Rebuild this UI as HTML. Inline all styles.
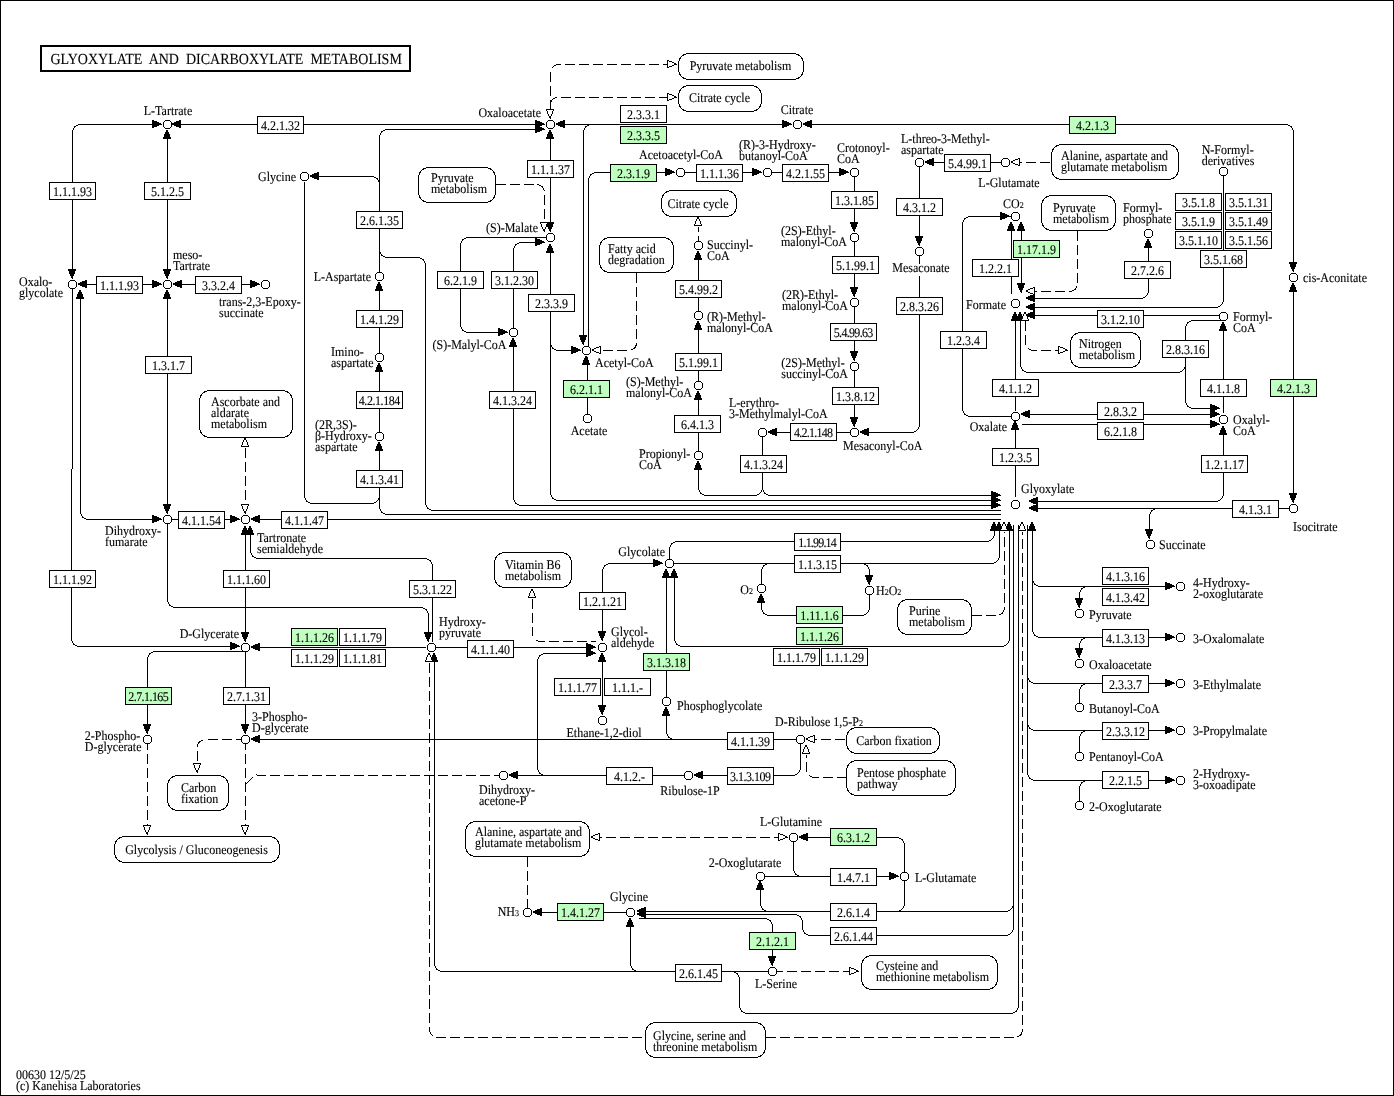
<!DOCTYPE html>
<html><head><meta charset="utf-8"><style>
    html,body{margin:0;padding:0;background:#fff;}
    svg{display:block;will-change:transform;}
    .l{fill:none;stroke:#000;stroke-width:1;}
    .ld{fill:none;stroke:#000;stroke-width:1;stroke-dasharray:10 4;}
    .c{fill:#fff;stroke:#000;stroke-width:1;}
    .b{fill:#fff;stroke:#000;stroke-width:1;}
    .g{fill:#bfffbf;stroke:#000;stroke-width:1;}
    .m{fill:#fff;stroke:#000;stroke-width:1;}
    .a{fill:#000;stroke:none;}
    .ao{fill:#fff;stroke:#000;stroke-width:1;}
    text{font-family:"Liberation Serif",serif;font-size:12px;fill:#000;text-rendering:geometricPrecision;stroke:#000;stroke-width:0.1px;}
    </style></head>
<body><svg width="1394" height="1096" viewBox="0 0 1394 1096">
<defs><g id="cir" shape-rendering="crispEdges"><rect x="-3" y="-3" width="7" height="7" fill="#fff"/><path d="M-2,-4h5v1h-5zM-2,4h5v1h-5zM-4,-2h1v5h-1zM4,-2h1v5h-1zM-3,-3h1v1h-1zM3,-3h1v1h-1zM-3,3h1v1h-1zM3,3h1v1h-1z" fill="#000"/></g></defs>
<rect x="0" y="0" width="1394" height="1096" fill="#fff"/>
<g transform="translate(0.5,0.5)" shape-rendering="crispEdges">
<path d="M172,124 L544,124" class="l"/>
<path d="M161,124 L80.00,124.00 A8.00,8.00 0 0 0 72.00,132.00 L72,278" class="l"/>
<path d="M167,130 L167,278" class="l"/>
<path d="M310,176 L371.00,176.00 A8.00,8.00 0 0 1 379.00,184.00 L379,276" class="l"/>
<path d="M544,129 L387.00,129.00 A8.00,8.00 0 0 0 379.00,137.00 L379.00,249.00 A8.00,8.00 0 0 0 387.00,257.00 L417.00,257.00 A8.00,8.00 0 0 1 425.00,265.00 L425.00,502.00 A8.00,8.00 0 0 0 433.00,510.00 L1000,510" class="l"/>
<path d="M304,181 L304.00,495.00 A8.00,8.00 0 0 0 312.00,503.00 L371.00,503.00 A8.00,8.00 0 0 0 379.00,495.00 L379,487" class="l"/>
<path d="M379,495 L379.00,506.00 A8.00,8.00 0 0 0 387.00,514.00 L1000,514" class="l"/>
<path d="M379,442 L379,487" class="l"/>
<path d="M379,363 L379,436" class="l"/>
<path d="M379,282 L379,357" class="l"/>
<path d="M550,130 L550,231" class="l"/>
<path d="M550,109 L550.00,72.00 A8.00,8.00 0 0 1 558.00,64.00 L667,64" class="ld"/>
<path d="M550,104 L550.00,104.00 A7.00,7.00 0 0 1 557.00,97.00 L667,97" class="ld"/>
<path d="M556,124 L791,124" class="l"/>
<path d="M803,124 L1285.00,124.00 A8.00,8.00 0 0 1 1293.00,132.00 L1293,271" class="l"/>
<path d="M1293,283 L1293,502" class="l"/>
<path d="M495,184 L536.00,184.00 A8.00,8.00 0 0 1 544.00,192.00 L544,231" class="ld"/>
<path d="M600,124 L591.00,124.00 A8.00,8.00 0 0 0 583.00,132.00 L583,344" class="l"/>
<path d="M588,345 L588.00,180.00 A8.00,8.00 0 0 1 596.00,172.00 L674,172" class="l"/>
<path d="M680,172 L761,172" class="l"/>
<path d="M767,172 L848,172" class="l"/>
<path d="M854,172 L854,231" class="l"/>
<path d="M854,237 L854,296" class="l"/>
<path d="M854,302 L854,360" class="l"/>
<path d="M854,366 L854,426" class="l"/>
<path d="M768,432 L854,432" class="l"/>
<path d="M919,251 L919.00,424.00 A8.00,8.00 0 0 1 911.00,432.00 L860,432" class="l"/>
<path d="M919,162 L919,245" class="l"/>
<path d="M925,162 L1005,162" class="l"/>
<path d="M1011,162 L1051,162" class="ld"/>
<path d="M762,432 L762.00,487.00 A8.00,8.00 0 0 1 754.00,495.00 L706.00,495.00 A8.00,8.00 0 0 1 698.00,487.00 L698,461" class="l"/>
<path d="M762,487 L762.00,487.00 A8.00,8.00 0 0 0 770.00,495.00 L1000,495" class="l"/>
<path d="M698,391 L698,455" class="l"/>
<path d="M698,321 L698,385" class="l"/>
<path d="M698,251 L698,315" class="l"/>
<path d="M698,245 L698,226" class="ld"/>
<path d="M550,237 L468.00,237.00 A8.00,8.00 0 0 0 460.00,245.00 L460.00,324.00 A8.00,8.00 0 0 0 468.00,332.00 L507,332" class="l"/>
<path d="M513,332 L513.00,250.00 A8.00,8.00 0 0 1 521.00,242.00 L544,242" class="l"/>
<path d="M513,338 L513.00,497.00 A8.00,8.00 0 0 0 521.00,505.00 L1000,505" class="l"/>
<path d="M550,244 L550.00,492.00 A8.00,8.00 0 0 0 558.00,500.00 L1000,500" class="l"/>
<path d="M550,340 L550.00,342.00 A8.00,8.00 0 0 0 558.00,350.00 L580,350" class="l"/>
<path d="M587,356 L587,418" class="l"/>
<path d="M636,272 L636.00,342.00 A8.00,8.00 0 0 1 628.00,350.00 L592,350" class="ld"/>
<path d="M1015,416 L970.00,416.00 A8.00,8.00 0 0 1 962.00,408.00 L962.00,224.00 A8.00,8.00 0 0 1 970.00,216.00 L1010,216" class="l"/>
<path d="M1011,222 L1011,293" class="l"/>
<path d="M1021,222 L1021,291" class="l"/>
<path d="M1077,230 L1077.00,283.00 A8.00,8.00 0 0 1 1069.00,291.00 L1027,291" class="ld"/>
<path d="M1148,239 L1148.00,290.00 A8.00,8.00 0 0 1 1140.00,298.00 L1027,298" class="l"/>
<path d="M1223,171 L1223.00,299.00 A8.00,8.00 0 0 1 1215.00,307.00 L1027,307" class="l"/>
<path d="M1027,315 L1223,315" class="l"/>
<path d="M1015,312 L1015,410" class="l"/>
<path d="M1020,312 L1020.00,364.00 A8.00,8.00 0 0 0 1028.00,372.00 L1177.00,372.00 A8.00,8.00 0 0 0 1185.00,364.00 L1185,360" class="l"/>
<path d="M1223,320 L1193.00,320.00 A8.00,8.00 0 0 0 1185.00,328.00 L1185.00,400.00 A8.00,8.00 0 0 0 1193.00,408.00 L1219,408" class="l"/>
<path d="M1025,320 L1025.00,342.00 A8.00,8.00 0 0 0 1033.00,350.00 L1058,350" class="ld"/>
<path d="M1223,322 L1223,412" class="l"/>
<path d="M1021,414 L1217,414" class="l"/>
<path d="M1021,424 L1219,424" class="l"/>
<path d="M1015,418 L1015,496" class="l"/>
<path d="M1223,426 L1223.00,493.00 A8.00,8.00 0 0 1 1215.00,501.00 L1029,501" class="l"/>
<path d="M1293,508 L1029,508" class="l"/>
<path d="M1160,508 L1157.00,508.00 A8.00,8.00 0 0 0 1149.00,516.00 L1149,538" class="l"/>
<path d="M78,284 L161,284" class="l"/>
<path d="M173,284 L259,284" class="l"/>
<path d="M167,290 L167,513" class="l"/>
<path d="M72,284 L72,468" class="l"/>
<path d="M71,468 L71.00,638.00 A8.00,8.00 0 0 0 79.00,646.00 L239,646" class="l"/>
<path d="M80,290 L80.00,511.00 A8.00,8.00 0 0 0 88.00,519.00 L161,519" class="l"/>
<path d="M167,519 L239,519" class="l"/>
<path d="M251,519 L1000,519" class="l"/>
<path d="M245,447 L245,504" class="ld"/>
<path d="M245,526 L245,641" class="l"/>
<path d="M250,526 L250.00,550.00 A8.00,8.00 0 0 0 258.00,558.00 L424.00,558.00 A8.00,8.00 0 0 1 432.00,566.00 L432,641" class="l"/>
<path d="M167,519 L167.00,599.00 A8.00,8.00 0 0 0 175.00,607.00 L420.00,607.00 A8.00,8.00 0 0 1 428.00,615.00 L428,641" class="l"/>
<path d="M251,647 L425,647" class="l"/>
<path d="M245,651 L155.00,651.00 A8.00,8.00 0 0 0 147.00,659.00 L147,733" class="l"/>
<path d="M245,647 L245,733" class="l"/>
<path d="M147,739 L147,825" class="ld"/>
<path d="M245,739 L245,825" class="ld"/>
<path d="M245,739 L205.00,739.00 A8.00,8.00 0 0 0 197.00,747.00 L197,763" class="ld"/>
<path d="M503,775 L257.00,775.00 A3.00,3.00 0 0 0 251.88,777.12 L245,784" class="ld"/>
<path d="M431,647 L595,647" class="l"/>
<path d="M532,598 L532.00,633.00 A8.00,8.00 0 0 0 540.00,641.00 L595,641" class="ld"/>
<path d="M602,640 L602.00,571.00 A8.00,8.00 0 0 1 610.00,563.00 L662,563" class="l"/>
<path d="M602,653 L602,714" class="l"/>
<path d="M666,569 L666,701" class="l"/>
<path d="M674,569 L674.00,638.00 A8.00,8.00 0 0 0 682.00,646.00 L1001.00,646.00 A8.00,8.00 0 0 0 1009.00,638.00 L1009,522" class="l"/>
<path d="M669,563 L669.00,549.00 A8.00,8.00 0 0 1 677.00,541.00 L986.00,541.00 A8.00,8.00 0 0 0 994.00,533.00 L994,522" class="l"/>
<path d="M669,563 L991.00,563.00 A8.00,8.00 0 0 0 999.00,555.00 L999,522" class="l"/>
<path d="M790,563 L769.00,563.00 A8.00,8.00 0 0 0 761.00,571.00 L761,588" class="l"/>
<path d="M840,563 L861.00,563.00 A8.00,8.00 0 0 1 869.00,571.00 L869,584" class="l"/>
<path d="M869,590 L869.00,607.00 A8.00,8.00 0 0 1 861.00,615.00 L769.00,615.00 A8.00,8.00 0 0 1 761.00,607.00 L761,594" class="l"/>
<path d="M971,615 L996.00,615.00 A8.00,8.00 0 0 0 1004.00,607.00 L1004,531" class="ld"/>
<path d="M800,739 L251,739" class="l"/>
<path d="M690,739 L674.00,739.00 A8.00,8.00 0 0 1 666.00,731.00 L666,707" class="l"/>
<path d="M806,739 L846,739" class="ld"/>
<path d="M846,777 L814.00,777.00 A8.00,8.00 0 0 1 806.00,769.00 L806,754" class="ld"/>
<path d="M800,739 L800.00,767.00 A8.00,8.00 0 0 1 792.00,775.00 L694,775" class="l"/>
<path d="M688,775 L509,775" class="l"/>
<path d="M560,775 L545.00,775.00 A8.00,8.00 0 0 1 537.00,767.00 L537.00,661.00 A8.00,8.00 0 0 1 545.00,653.00 L595,653" class="l"/>
<path d="M527,856 L527,908" class="ld"/>
<path d="M591,837 L787,837" class="ld"/>
<path d="M533,912 L630,912" class="l"/>
<path d="M904,876 L904.00,845.00 A8.00,8.00 0 0 0 896.00,837.00 L799,837" class="l"/>
<path d="M760,876 L898,876" class="l"/>
<path d="M793,837 L793.00,868.00 A8.00,8.00 0 0 0 801.00,876.00 L810,876" class="l"/>
<path d="M1013,524 L1013.00,903.00 A8.00,8.00 0 0 1 1005.00,911.00 L637,911" class="l"/>
<path d="M904,876 L904.00,903.00 A8.00,8.00 0 0 1 896.00,911.00 L890,911" class="l"/>
<path d="M760,881 L760.00,903.00 A8.00,8.00 0 0 0 768.00,911.00 L780,911" class="l"/>
<path d="M1013,900 L1013.00,927.00 A8.00,8.00 0 0 1 1005.00,935.00 L810.00,935.00 A8.00,8.00 0 0 1 802.00,927.00 L802.00,922.00 A8.00,8.00 0 0 0 794.00,914.00 L637,914" class="l"/>
<path d="M638,918 L764.00,918.00 A8.00,8.00 0 0 1 772.00,926.00 L772,965" class="l"/>
<path d="M434,653 L434.00,963.00 A8.00,8.00 0 0 0 442.00,971.00 L772,971" class="l"/>
<path d="M630,918 L630.00,963.00 A8.00,8.00 0 0 0 638.00,971.00 L650,971" class="l"/>
<path d="M721,971 L731.00,971.00 A8.00,8.00 0 0 1 739.00,979.00 L739.00,1005.00 A8.00,8.00 0 0 0 747.00,1013.00 L1010.00,1013.00 A8.00,8.00 0 0 0 1018.00,1005.00 L1018,524" class="l"/>
<path d="M772,971 L849,971" class="ld"/>
<path d="M429,662 L429.00,1029.00 A8.00,8.00 0 0 0 437.00,1037.00 L645,1037" class="ld"/>
<path d="M765,1037 L1014.00,1037.00 A8.00,8.00 0 0 0 1022.00,1029.00 L1022,531" class="ld"/>
<path d="M1032,522 L1032.00,629.00 A8.00,8.00 0 0 0 1040.00,637.00 L1174,637" class="l"/>
<path d="M1032,575 L1032.00,578.00 A8.00,8.00 0 0 0 1040.00,586.00 L1174,586" class="l"/>
<path d="M1090,586 L1087.00,586.00 A8.00,8.00 0 0 0 1079.00,594.00 L1079,607" class="l"/>
<path d="M1090,637 L1087.00,637.00 A8.00,8.00 0 0 0 1079.00,645.00 L1079,657" class="l"/>
<path d="M1027,524 L1027.00,772.00 A8.00,8.00 0 0 0 1035.00,780.00 L1174,780" class="l"/>
<path d="M1027,672 L1027.00,675.00 A8.00,8.00 0 0 0 1035.00,683.00 L1174,683" class="l"/>
<path d="M1079,707 L1079.00,691.00 A8.00,8.00 0 0 1 1087.00,683.00 L1090,683" class="l"/>
<path d="M1027,719 L1027.00,722.00 A8.00,8.00 0 0 0 1035.00,730.00 L1174,730" class="l"/>
<path d="M1079,756 L1079.00,738.00 A8.00,8.00 0 0 1 1087.00,730.00 L1090,730" class="l"/>
<path d="M1079,805 L1079.00,788.00 A8.00,8.00 0 0 1 1087.00,780.00 L1090,780" class="l"/>
<rect x="0" y="0" width="1393" height="1095" fill="none" stroke="#000" stroke-width="1"/>
<rect x="40.5" y="45.5" width="369" height="25" fill="none" stroke="#000" stroke-width="2"/>
<rect x="257" y="116" width="46" height="17" class="b"/>
<rect x="49" y="182" width="46" height="17" class="b"/>
<rect x="144" y="182" width="46" height="17" class="b"/>
<rect x="356" y="211" width="46" height="17" class="b"/>
<rect x="356" y="470" width="46" height="17" class="b"/>
<rect x="356" y="391" width="46" height="17" class="b"/>
<rect x="356" y="310" width="46" height="17" class="b"/>
<rect x="527" y="160" width="46" height="17" class="b"/>
<rect x="678" y="53" width="125" height="26" rx="10" ry="10" class="m"/>
<rect x="678" y="85" width="83" height="26" rx="10" ry="10" class="m"/>
<rect x="620" y="105" width="46" height="17" class="b"/>
<rect x="620" y="126" width="46" height="17" class="g"/>
<rect x="1069" y="116" width="46" height="17" class="g"/>
<rect x="1270" y="379" width="46" height="17" class="g"/>
<rect x="418" y="167" width="77" height="35" rx="10" ry="10" class="m"/>
<rect x="610" y="164" width="46" height="17" class="g"/>
<rect x="696" y="164" width="46" height="17" class="b"/>
<rect x="782" y="164" width="46" height="17" class="b"/>
<rect x="831" y="191" width="46" height="17" class="b"/>
<rect x="832" y="256" width="46" height="17" class="b"/>
<rect x="830" y="323" width="46" height="17" class="b"/>
<rect x="832" y="387" width="46" height="17" class="b"/>
<rect x="790" y="423" width="46" height="17" class="b"/>
<rect x="896" y="297" width="46" height="17" class="b"/>
<rect x="896" y="198" width="46" height="17" class="b"/>
<rect x="944" y="154" width="46" height="17" class="b"/>
<rect x="1051" y="144" width="127" height="35" rx="10" ry="10" class="m"/>
<rect x="740" y="455" width="46" height="17" class="b"/>
<rect x="674" y="415" width="46" height="17" class="b"/>
<rect x="675" y="353" width="46" height="17" class="b"/>
<rect x="675" y="280" width="46" height="17" class="b"/>
<rect x="661" y="190" width="75" height="26" rx="10" ry="10" class="m"/>
<rect x="437" y="271" width="46" height="17" class="b"/>
<rect x="491" y="271" width="46" height="17" class="b"/>
<rect x="489" y="391" width="46" height="17" class="b"/>
<rect x="528" y="294" width="46" height="17" class="b"/>
<rect x="563" y="380" width="46" height="17" class="g"/>
<rect x="599" y="237" width="74" height="35" rx="10" ry="10" class="m"/>
<rect x="940" y="331" width="46" height="17" class="b"/>
<rect x="972" y="259" width="46" height="17" class="b"/>
<rect x="1013" y="240" width="46" height="17" class="g"/>
<rect x="1041" y="195" width="74" height="35" rx="10" ry="10" class="m"/>
<rect x="1124" y="261" width="46" height="17" class="b"/>
<rect x="1175" y="193" width="46" height="17" class="b"/>
<rect x="1225" y="193" width="46" height="17" class="b"/>
<rect x="1175" y="212" width="46" height="17" class="b"/>
<rect x="1225" y="212" width="46" height="17" class="b"/>
<rect x="1175" y="231" width="46" height="17" class="b"/>
<rect x="1225" y="231" width="46" height="17" class="b"/>
<rect x="1200" y="250" width="46" height="17" class="b"/>
<rect x="1097" y="310" width="46" height="17" class="b"/>
<rect x="992" y="379" width="46" height="17" class="b"/>
<rect x="1162" y="340" width="46" height="17" class="b"/>
<rect x="1070" y="332" width="70" height="35" rx="10" ry="10" class="m"/>
<rect x="1200" y="379" width="46" height="17" class="b"/>
<rect x="1097" y="402" width="46" height="17" class="b"/>
<rect x="1097" y="422" width="46" height="17" class="b"/>
<rect x="992" y="448" width="46" height="17" class="b"/>
<rect x="1201" y="455" width="46" height="17" class="b"/>
<rect x="1232" y="500" width="46" height="17" class="b"/>
<rect x="96" y="276" width="46" height="17" class="b"/>
<rect x="195" y="276" width="46" height="17" class="b"/>
<rect x="145" y="356" width="46" height="17" class="b"/>
<rect x="49" y="570" width="46" height="17" class="b"/>
<rect x="178" y="511" width="46" height="17" class="b"/>
<rect x="281" y="511" width="46" height="17" class="b"/>
<rect x="199" y="390" width="93" height="47" rx="10" ry="10" class="m"/>
<rect x="223" y="570" width="46" height="17" class="b"/>
<rect x="409" y="580" width="46" height="17" class="b"/>
<rect x="291" y="628" width="46" height="17" class="g"/>
<rect x="339" y="628" width="46" height="17" class="b"/>
<rect x="291" y="649" width="46" height="17" class="b"/>
<rect x="339" y="649" width="46" height="17" class="b"/>
<rect x="125" y="687" width="46" height="17" class="g"/>
<rect x="223" y="687" width="46" height="17" class="b"/>
<rect x="167" y="775" width="61" height="35" rx="10" ry="10" class="m"/>
<rect x="114" y="836" width="165" height="26" rx="10" ry="10" class="m"/>
<rect x="467" y="640" width="46" height="17" class="b"/>
<rect x="494" y="552" width="77" height="35" rx="10" ry="10" class="m"/>
<rect x="579" y="592" width="46" height="17" class="b"/>
<rect x="554" y="678" width="46" height="17" class="b"/>
<rect x="604" y="678" width="46" height="17" class="b"/>
<rect x="643" y="653" width="46" height="17" class="g"/>
<rect x="796" y="627" width="46" height="17" class="g"/>
<rect x="773" y="648" width="46" height="17" class="b"/>
<rect x="821" y="648" width="46" height="17" class="b"/>
<rect x="794" y="533" width="46" height="17" class="b"/>
<rect x="794" y="555" width="46" height="17" class="b"/>
<rect x="796" y="606" width="46" height="17" class="g"/>
<rect x="897" y="599" width="74" height="35" rx="10" ry="10" class="m"/>
<rect x="727" y="732" width="46" height="17" class="b"/>
<rect x="846" y="727" width="93" height="26" rx="10" ry="10" class="m"/>
<rect x="846" y="760" width="109" height="35" rx="10" ry="10" class="m"/>
<rect x="727" y="767" width="46" height="17" class="b"/>
<rect x="606" y="767" width="46" height="17" class="b"/>
<rect x="465" y="821" width="124" height="35" rx="10" ry="10" class="m"/>
<rect x="557" y="903" width="46" height="17" class="g"/>
<rect x="830" y="828" width="46" height="17" class="g"/>
<rect x="830" y="868" width="46" height="17" class="b"/>
<rect x="830" y="903" width="46" height="17" class="b"/>
<rect x="830" y="927" width="46" height="17" class="b"/>
<rect x="749" y="932" width="46" height="17" class="g"/>
<rect x="675" y="964" width="46" height="17" class="b"/>
<rect x="861" y="955" width="136" height="34" rx="10" ry="10" class="m"/>
<rect x="645" y="1022" width="120" height="35" rx="10" ry="10" class="m"/>
<rect x="1102" y="567" width="46" height="17" class="b"/>
<rect x="1102" y="588" width="46" height="17" class="b"/>
<rect x="1102" y="629" width="46" height="17" class="b"/>
<rect x="1102" y="675" width="46" height="17" class="b"/>
<rect x="1102" y="722" width="46" height="17" class="b"/>
<rect x="1102" y="771" width="46" height="17" class="b"/>
<rect x="891" y="263" width="59" height="12" fill="#fff" stroke="none"/>
</g>
<g shape-rendering="crispEdges">
<path d="M179,120h2v1h-2zM176,121h5v1h-5zM174,122h7v1h-7zM172,123h9v1h-9zM172,124h9v1h-9zM174,125h7v1h-7zM176,126h5v1h-5zM179,127h2v1h-2z" fill="#000"/>
<path d="M535,120h2v1h-2zM535,121h5v1h-5zM535,122h7v1h-7zM535,123h9v1h-9zM535,124h10v1h-10zM535,125h7v1h-7zM535,126h5v1h-5zM535,127h2v1h-2z" fill="#000"/>
<path d="M152,120h2v1h-2zM152,121h5v1h-5zM152,122h7v1h-7zM152,123h9v1h-9zM152,124h10v1h-10zM152,125h7v1h-7zM152,126h5v1h-5zM152,127h2v1h-2z" fill="#000"/>
<path d="M68,269h8v1h-8zM68,270h8v1h-8zM69,271h6v1h-6zM69,272h6v1h-6zM69,273h6v1h-6zM70,274h4v1h-4zM70,275h4v1h-4zM71,276h2v1h-2zM71,277h2v1h-2zM72,278h1v1h-1z" fill="#000"/>
<path d="M166,130h2v1h-2zM166,131h2v1h-2zM165,132h4v1h-4zM165,133h4v1h-4zM164,134h6v1h-6zM164,135h6v1h-6zM164,136h6v1h-6zM163,137h8v1h-8zM163,138h8v1h-8z" fill="#000"/>
<path d="M163,269h8v1h-8zM163,270h8v1h-8zM164,271h6v1h-6zM164,272h6v1h-6zM164,273h6v1h-6zM165,274h4v1h-4zM165,275h4v1h-4zM166,276h2v1h-2zM166,277h2v1h-2zM167,278h1v1h-1z" fill="#000"/>
<path d="M317,172h2v1h-2zM314,173h5v1h-5zM312,174h7v1h-7zM310,175h9v1h-9zM310,176h9v1h-9zM312,177h7v1h-7zM314,178h5v1h-5zM317,179h2v1h-2z" fill="#000"/>
<path d="M535,125h2v1h-2zM535,126h5v1h-5zM535,127h7v1h-7zM535,128h9v1h-9zM535,129h10v1h-10zM535,130h7v1h-7zM535,131h5v1h-5zM535,132h2v1h-2z" fill="#000"/>
<path d="M378,442h2v1h-2zM378,443h2v1h-2zM377,444h4v1h-4zM377,445h4v1h-4zM376,446h6v1h-6zM376,447h6v1h-6zM376,448h6v1h-6zM375,449h8v1h-8zM375,450h8v1h-8z" fill="#000"/>
<path d="M378,363h2v1h-2zM378,364h2v1h-2zM377,365h4v1h-4zM377,366h4v1h-4zM376,367h6v1h-6zM376,368h6v1h-6zM376,369h6v1h-6zM375,370h8v1h-8zM375,371h8v1h-8z" fill="#000"/>
<path d="M378,282h2v1h-2zM378,283h2v1h-2zM377,284h4v1h-4zM377,285h4v1h-4zM376,286h6v1h-6zM376,287h6v1h-6zM376,288h6v1h-6zM375,289h8v1h-8zM375,290h8v1h-8z" fill="#000"/>
<path d="M549,130h2v1h-2zM549,131h2v1h-2zM548,132h4v1h-4zM548,133h4v1h-4zM547,134h6v1h-6zM547,135h6v1h-6zM547,136h6v1h-6zM546,137h8v1h-8zM546,138h8v1h-8z" fill="#000"/>
<path d="M546,222h8v1h-8zM546,223h8v1h-8zM547,224h6v1h-6zM547,225h6v1h-6zM547,226h6v1h-6zM548,227h4v1h-4zM548,228h4v1h-4zM549,229h2v1h-2zM549,230h2v1h-2zM550,231h1v1h-1z" fill="#000"/>
<path d="M547,110h6v1h-6zM548,111h4v1h-4zM548,112h4v1h-4zM548,113h4v1h-4zM549,114h2v1h-2zM549,115h2v1h-2z" fill="#fff"/>
<path d="M546,109h8v1h-8zM546,110h1v1h-1zM553,110h1v1h-1zM547,111h1v1h-1zM552,111h1v1h-1zM547,112h1v1h-1zM552,112h1v1h-1zM547,113h1v1h-1zM552,113h1v1h-1zM548,114h1v1h-1zM551,114h1v1h-1zM548,115h1v1h-1zM551,115h1v1h-1zM549,116h2v1h-2zM549,117h2v1h-2zM550,118h1v1h-1z" fill="#000"/>
<path d="M668,61h1v1h-1zM668,62h4v1h-4zM668,63h6v1h-6zM668,64h6v1h-6zM668,65h4v1h-4zM668,66h1v1h-1z" fill="#fff"/>
<path d="M667,60h2v1h-2zM667,61h1v1h-1zM669,61h3v1h-3zM667,62h1v1h-1zM672,62h2v1h-2zM667,63h1v1h-1zM674,63h2v1h-2zM667,64h1v1h-1zM674,64h3v1h-3zM667,65h1v1h-1zM672,65h2v1h-2zM667,66h1v1h-1zM669,66h3v1h-3zM667,67h2v1h-2z" fill="#000"/>
<path d="M668,94h1v1h-1zM668,95h4v1h-4zM668,96h6v1h-6zM668,97h6v1h-6zM668,98h4v1h-4zM668,99h1v1h-1z" fill="#fff"/>
<path d="M667,93h2v1h-2zM667,94h1v1h-1zM669,94h3v1h-3zM667,95h1v1h-1zM672,95h2v1h-2zM667,96h1v1h-1zM674,96h2v1h-2zM667,97h1v1h-1zM674,97h3v1h-3zM667,98h1v1h-1zM672,98h2v1h-2zM667,99h1v1h-1zM669,99h3v1h-3zM667,100h2v1h-2z" fill="#000"/>
<path d="M563,120h2v1h-2zM560,121h5v1h-5zM558,122h7v1h-7zM556,123h9v1h-9zM556,124h9v1h-9zM558,125h7v1h-7zM560,126h5v1h-5zM563,127h2v1h-2z" fill="#000"/>
<path d="M782,120h2v1h-2zM782,121h5v1h-5zM782,122h7v1h-7zM782,123h9v1h-9zM782,124h10v1h-10zM782,125h7v1h-7zM782,126h5v1h-5zM782,127h2v1h-2z" fill="#000"/>
<path d="M810,120h2v1h-2zM807,121h5v1h-5zM805,122h7v1h-7zM803,123h9v1h-9zM803,124h9v1h-9zM805,125h7v1h-7zM807,126h5v1h-5zM810,127h2v1h-2z" fill="#000"/>
<path d="M1289,262h8v1h-8zM1289,263h8v1h-8zM1290,264h6v1h-6zM1290,265h6v1h-6zM1290,266h6v1h-6zM1291,267h4v1h-4zM1291,268h4v1h-4zM1292,269h2v1h-2zM1292,270h2v1h-2zM1293,271h1v1h-1z" fill="#000"/>
<path d="M1292,283h2v1h-2zM1292,284h2v1h-2zM1291,285h4v1h-4zM1291,286h4v1h-4zM1290,287h6v1h-6zM1290,288h6v1h-6zM1290,289h6v1h-6zM1289,290h8v1h-8zM1289,291h8v1h-8z" fill="#000"/>
<path d="M1289,493h8v1h-8zM1289,494h8v1h-8zM1290,495h6v1h-6zM1290,496h6v1h-6zM1290,497h6v1h-6zM1291,498h4v1h-4zM1291,499h4v1h-4zM1292,500h2v1h-2zM1292,501h2v1h-2zM1293,502h1v1h-1z" fill="#000"/>
<path d="M541,223h6v1h-6zM542,224h4v1h-4zM542,225h4v1h-4zM542,226h4v1h-4zM543,227h2v1h-2zM543,228h2v1h-2z" fill="#fff"/>
<path d="M540,222h8v1h-8zM540,223h1v1h-1zM547,223h1v1h-1zM541,224h1v1h-1zM546,224h1v1h-1zM541,225h1v1h-1zM546,225h1v1h-1zM541,226h1v1h-1zM546,226h1v1h-1zM542,227h1v1h-1zM545,227h1v1h-1zM542,228h1v1h-1zM545,228h1v1h-1zM543,229h2v1h-2zM543,230h2v1h-2zM544,231h1v1h-1z" fill="#000"/>
<path d="M579,335h8v1h-8zM579,336h8v1h-8zM580,337h6v1h-6zM580,338h6v1h-6zM580,339h6v1h-6zM581,340h4v1h-4zM581,341h4v1h-4zM582,342h2v1h-2zM582,343h2v1h-2zM583,344h1v1h-1z" fill="#000"/>
<path d="M665,168h2v1h-2zM665,169h5v1h-5zM665,170h7v1h-7zM665,171h9v1h-9zM665,172h10v1h-10zM665,173h7v1h-7zM665,174h5v1h-5zM665,175h2v1h-2z" fill="#000"/>
<path d="M752,168h2v1h-2zM752,169h5v1h-5zM752,170h7v1h-7zM752,171h9v1h-9zM752,172h10v1h-10zM752,173h7v1h-7zM752,174h5v1h-5zM752,175h2v1h-2z" fill="#000"/>
<path d="M839,168h2v1h-2zM839,169h5v1h-5zM839,170h7v1h-7zM839,171h9v1h-9zM839,172h10v1h-10zM839,173h7v1h-7zM839,174h5v1h-5zM839,175h2v1h-2z" fill="#000"/>
<path d="M850,222h8v1h-8zM850,223h8v1h-8zM851,224h6v1h-6zM851,225h6v1h-6zM851,226h6v1h-6zM852,227h4v1h-4zM852,228h4v1h-4zM853,229h2v1h-2zM853,230h2v1h-2zM854,231h1v1h-1z" fill="#000"/>
<path d="M850,287h8v1h-8zM850,288h8v1h-8zM851,289h6v1h-6zM851,290h6v1h-6zM851,291h6v1h-6zM852,292h4v1h-4zM852,293h4v1h-4zM853,294h2v1h-2zM853,295h2v1h-2zM854,296h1v1h-1z" fill="#000"/>
<path d="M850,351h8v1h-8zM850,352h8v1h-8zM851,353h6v1h-6zM851,354h6v1h-6zM851,355h6v1h-6zM852,356h4v1h-4zM852,357h4v1h-4zM853,358h2v1h-2zM853,359h2v1h-2zM854,360h1v1h-1z" fill="#000"/>
<path d="M850,417h8v1h-8zM850,418h8v1h-8zM851,419h6v1h-6zM851,420h6v1h-6zM851,421h6v1h-6zM852,422h4v1h-4zM852,423h4v1h-4zM853,424h2v1h-2zM853,425h2v1h-2zM854,426h1v1h-1z" fill="#000"/>
<path d="M775,428h2v1h-2zM772,429h5v1h-5zM770,430h7v1h-7zM768,431h9v1h-9zM768,432h9v1h-9zM770,433h7v1h-7zM772,434h5v1h-5zM775,435h2v1h-2z" fill="#000"/>
<path d="M867,428h2v1h-2zM864,429h5v1h-5zM862,430h7v1h-7zM860,431h9v1h-9zM860,432h9v1h-9zM862,433h7v1h-7zM864,434h5v1h-5zM867,435h2v1h-2z" fill="#000"/>
<path d="M915,236h8v1h-8zM915,237h8v1h-8zM916,238h6v1h-6zM916,239h6v1h-6zM916,240h6v1h-6zM917,241h4v1h-4zM917,242h4v1h-4zM918,243h2v1h-2zM918,244h2v1h-2zM919,245h1v1h-1z" fill="#000"/>
<path d="M932,158h2v1h-2zM929,159h5v1h-5zM927,160h7v1h-7zM925,161h9v1h-9zM925,162h9v1h-9zM927,163h7v1h-7zM929,164h5v1h-5zM932,165h2v1h-2z" fill="#000"/>
<path d="M1018,159h1v1h-1zM1015,160h4v1h-4zM1013,161h6v1h-6zM1013,162h6v1h-6zM1015,163h4v1h-4zM1018,164h1v1h-1z" fill="#fff"/>
<path d="M1018,158h2v1h-2zM1015,159h3v1h-3zM1019,159h1v1h-1zM1013,160h2v1h-2zM1019,160h1v1h-1zM1011,161h2v1h-2zM1019,161h1v1h-1zM1011,162h2v1h-2zM1019,162h1v1h-1zM1013,163h2v1h-2zM1019,163h1v1h-1zM1015,164h3v1h-3zM1019,164h1v1h-1zM1018,165h2v1h-2z" fill="#000"/>
<path d="M991,491h2v1h-2zM991,492h5v1h-5zM991,493h7v1h-7zM991,494h9v1h-9zM991,495h10v1h-10zM991,496h7v1h-7zM991,497h5v1h-5zM991,498h2v1h-2z" fill="#000"/>
<path d="M991,496h2v1h-2zM991,497h5v1h-5zM991,498h7v1h-7zM991,499h9v1h-9zM991,500h10v1h-10zM991,501h7v1h-7zM991,502h5v1h-5zM991,503h2v1h-2z" fill="#000"/>
<path d="M991,501h2v1h-2zM991,502h5v1h-5zM991,503h7v1h-7zM991,504h9v1h-9zM991,505h10v1h-10zM991,506h7v1h-7zM991,507h5v1h-5zM991,508h2v1h-2z" fill="#000"/>
<path d="M697,461h2v1h-2zM697,462h2v1h-2zM696,463h4v1h-4zM696,464h4v1h-4zM695,465h6v1h-6zM695,466h6v1h-6zM695,467h6v1h-6zM694,468h8v1h-8zM694,469h8v1h-8z" fill="#000"/>
<path d="M697,391h2v1h-2zM697,392h2v1h-2zM696,393h4v1h-4zM696,394h4v1h-4zM695,395h6v1h-6zM695,396h6v1h-6zM695,397h6v1h-6zM694,398h8v1h-8zM694,399h8v1h-8z" fill="#000"/>
<path d="M697,321h2v1h-2zM697,322h2v1h-2zM696,323h4v1h-4zM696,324h4v1h-4zM695,325h6v1h-6zM695,326h6v1h-6zM695,327h6v1h-6zM694,328h8v1h-8zM694,329h8v1h-8z" fill="#000"/>
<path d="M697,251h2v1h-2zM697,252h2v1h-2zM696,253h4v1h-4zM696,254h4v1h-4zM695,255h6v1h-6zM695,256h6v1h-6zM695,257h6v1h-6zM694,258h8v1h-8zM694,259h8v1h-8z" fill="#000"/>
<path d="M697,219h2v1h-2zM697,220h2v1h-2zM696,221h4v1h-4zM696,222h4v1h-4zM696,223h4v1h-4zM695,224h6v1h-6z" fill="#fff"/>
<path d="M697,217h2v1h-2zM697,218h2v1h-2zM696,219h1v1h-1zM699,219h1v1h-1zM696,220h1v1h-1zM699,220h1v1h-1zM695,221h1v1h-1zM700,221h1v1h-1zM695,222h1v1h-1zM700,222h1v1h-1zM695,223h1v1h-1zM700,223h1v1h-1zM694,224h1v1h-1zM701,224h1v1h-1zM694,225h8v1h-8z" fill="#000"/>
<path d="M498,328h2v1h-2zM498,329h5v1h-5zM498,330h7v1h-7zM498,331h9v1h-9zM498,332h10v1h-10zM498,333h7v1h-7zM498,334h5v1h-5zM498,335h2v1h-2z" fill="#000"/>
<path d="M535,238h2v1h-2zM535,239h5v1h-5zM535,240h7v1h-7zM535,241h9v1h-9zM535,242h10v1h-10zM535,243h7v1h-7zM535,244h5v1h-5zM535,245h2v1h-2z" fill="#000"/>
<path d="M512,338h2v1h-2zM512,339h2v1h-2zM511,340h4v1h-4zM511,341h4v1h-4zM510,342h6v1h-6zM510,343h6v1h-6zM510,344h6v1h-6zM509,345h8v1h-8zM509,346h8v1h-8z" fill="#000"/>
<path d="M549,244h2v1h-2zM549,245h2v1h-2zM548,246h4v1h-4zM548,247h4v1h-4zM547,248h6v1h-6zM547,249h6v1h-6zM547,250h6v1h-6zM546,251h8v1h-8zM546,252h8v1h-8z" fill="#000"/>
<path d="M571,346h2v1h-2zM571,347h5v1h-5zM571,348h7v1h-7zM571,349h9v1h-9zM571,350h10v1h-10zM571,351h7v1h-7zM571,352h5v1h-5zM571,353h2v1h-2z" fill="#000"/>
<path d="M585,356h2v1h-2zM585,357h2v1h-2zM584,358h4v1h-4zM584,359h4v1h-4zM583,360h6v1h-6zM583,361h6v1h-6zM583,362h6v1h-6zM582,363h8v1h-8zM582,364h8v1h-8z" fill="#000"/>
<path d="M599,347h1v1h-1zM596,348h4v1h-4zM594,349h6v1h-6zM594,350h6v1h-6zM596,351h4v1h-4zM599,352h1v1h-1z" fill="#fff"/>
<path d="M599,346h2v1h-2zM596,347h3v1h-3zM600,347h1v1h-1zM594,348h2v1h-2zM600,348h1v1h-1zM592,349h2v1h-2zM600,349h1v1h-1zM592,350h2v1h-2zM600,350h1v1h-1zM594,351h2v1h-2zM600,351h1v1h-1zM596,352h3v1h-3zM600,352h1v1h-1zM599,353h2v1h-2z" fill="#000"/>
<path d="M1000,212h2v1h-2zM1000,213h5v1h-5zM1000,214h7v1h-7zM1000,215h9v1h-9zM1000,216h10v1h-10zM1000,217h7v1h-7zM1000,218h5v1h-5zM1000,219h2v1h-2z" fill="#000"/>
<path d="M1010,222h2v1h-2zM1010,223h2v1h-2zM1009,224h4v1h-4zM1009,225h4v1h-4zM1008,226h6v1h-6zM1008,227h6v1h-6zM1008,228h6v1h-6zM1007,229h8v1h-8zM1007,230h8v1h-8z" fill="#000"/>
<path d="M1020,222h2v1h-2zM1020,223h2v1h-2zM1019,224h4v1h-4zM1019,225h4v1h-4zM1018,226h6v1h-6zM1018,227h6v1h-6zM1018,228h6v1h-6zM1017,229h8v1h-8zM1017,230h8v1h-8z" fill="#000"/>
<path d="M1017,283h8v1h-8zM1017,284h8v1h-8zM1018,285h6v1h-6zM1018,286h6v1h-6zM1018,287h6v1h-6zM1019,288h4v1h-4zM1019,289h4v1h-4zM1020,290h2v1h-2zM1020,291h2v1h-2zM1021,292h1v1h-1z" fill="#000"/>
<path d="M1033,288h1v1h-1zM1030,289h4v1h-4zM1028,290h6v1h-6zM1028,291h6v1h-6zM1030,292h4v1h-4zM1033,293h1v1h-1z" fill="#fff"/>
<path d="M1033,287h2v1h-2zM1030,288h3v1h-3zM1034,288h1v1h-1zM1028,289h2v1h-2zM1034,289h1v1h-1zM1026,290h2v1h-2zM1034,290h1v1h-1zM1026,291h2v1h-2zM1034,291h1v1h-1zM1028,292h2v1h-2zM1034,292h1v1h-1zM1030,293h3v1h-3zM1034,293h1v1h-1zM1033,294h2v1h-2z" fill="#000"/>
<path d="M1147,239h2v1h-2zM1147,240h2v1h-2zM1146,241h4v1h-4zM1146,242h4v1h-4zM1145,243h6v1h-6zM1145,244h6v1h-6zM1145,245h6v1h-6zM1144,246h8v1h-8zM1144,247h8v1h-8z" fill="#000"/>
<path d="M1033,294h2v1h-2zM1030,295h5v1h-5zM1028,296h7v1h-7zM1026,297h9v1h-9zM1026,298h9v1h-9zM1028,299h7v1h-7zM1030,300h5v1h-5zM1033,301h2v1h-2z" fill="#000"/>
<path d="M1033,303h2v1h-2zM1030,304h5v1h-5zM1028,305h7v1h-7zM1026,306h9v1h-9zM1026,307h9v1h-9zM1028,308h7v1h-7zM1030,309h5v1h-5zM1033,310h2v1h-2z" fill="#000"/>
<path d="M1033,311h2v1h-2zM1030,312h5v1h-5zM1028,313h7v1h-7zM1026,314h9v1h-9zM1026,315h9v1h-9zM1028,316h7v1h-7zM1030,317h5v1h-5zM1033,318h2v1h-2z" fill="#000"/>
<path d="M1014,312h2v1h-2zM1014,313h2v1h-2zM1013,314h4v1h-4zM1013,315h4v1h-4zM1012,316h6v1h-6zM1012,317h6v1h-6zM1012,318h6v1h-6zM1011,319h8v1h-8zM1011,320h8v1h-8z" fill="#000"/>
<path d="M1019,312h2v1h-2zM1019,313h2v1h-2zM1018,314h4v1h-4zM1018,315h4v1h-4zM1017,316h6v1h-6zM1017,317h6v1h-6zM1017,318h6v1h-6zM1016,319h8v1h-8zM1016,320h8v1h-8z" fill="#000"/>
<path d="M1210,404h2v1h-2zM1210,405h5v1h-5zM1210,406h7v1h-7zM1210,407h9v1h-9zM1210,408h10v1h-10zM1210,409h7v1h-7zM1210,410h5v1h-5zM1210,411h2v1h-2z" fill="#000"/>
<path d="M1024,314h2v1h-2zM1024,315h2v1h-2zM1023,316h4v1h-4zM1023,317h4v1h-4zM1023,318h4v1h-4zM1022,319h6v1h-6z" fill="#fff"/>
<path d="M1024,312h2v1h-2zM1024,313h2v1h-2zM1023,314h1v1h-1zM1026,314h1v1h-1zM1023,315h1v1h-1zM1026,315h1v1h-1zM1022,316h1v1h-1zM1027,316h1v1h-1zM1022,317h1v1h-1zM1027,317h1v1h-1zM1022,318h1v1h-1zM1027,318h1v1h-1zM1021,319h1v1h-1zM1028,319h1v1h-1zM1021,320h8v1h-8z" fill="#000"/>
<path d="M1059,347h1v1h-1zM1059,348h4v1h-4zM1059,349h6v1h-6zM1059,350h6v1h-6zM1059,351h4v1h-4zM1059,352h1v1h-1z" fill="#fff"/>
<path d="M1058,346h2v1h-2zM1058,347h1v1h-1zM1060,347h3v1h-3zM1058,348h1v1h-1zM1063,348h2v1h-2zM1058,349h1v1h-1zM1065,349h2v1h-2zM1058,350h1v1h-1zM1065,350h3v1h-3zM1058,351h1v1h-1zM1063,351h2v1h-2zM1058,352h1v1h-1zM1060,352h3v1h-3zM1058,353h2v1h-2z" fill="#000"/>
<path d="M1222,322h2v1h-2zM1222,323h2v1h-2zM1221,324h4v1h-4zM1221,325h4v1h-4zM1220,326h6v1h-6zM1220,327h6v1h-6zM1220,328h6v1h-6zM1219,329h8v1h-8zM1219,330h8v1h-8z" fill="#000"/>
<path d="M1028,410h2v1h-2zM1025,411h5v1h-5zM1023,412h7v1h-7zM1021,413h9v1h-9zM1021,414h9v1h-9zM1023,415h7v1h-7zM1025,416h5v1h-5zM1028,417h2v1h-2z" fill="#000"/>
<path d="M1210,410h2v1h-2zM1210,411h5v1h-5zM1210,412h7v1h-7zM1210,413h9v1h-9zM1210,414h10v1h-10zM1210,415h7v1h-7zM1210,416h5v1h-5zM1210,417h2v1h-2z" fill="#000"/>
<path d="M1210,420h2v1h-2zM1210,421h5v1h-5zM1210,422h7v1h-7zM1210,423h9v1h-9zM1210,424h10v1h-10zM1210,425h7v1h-7zM1210,426h5v1h-5zM1210,427h2v1h-2z" fill="#000"/>
<path d="M1014,421h2v1h-2zM1014,422h2v1h-2zM1013,423h4v1h-4zM1013,424h4v1h-4zM1012,425h6v1h-6zM1012,426h6v1h-6zM1012,427h6v1h-6zM1011,428h8v1h-8zM1011,429h8v1h-8z" fill="#000"/>
<path d="M1222,426h2v1h-2zM1222,427h2v1h-2zM1221,428h4v1h-4zM1221,429h4v1h-4zM1220,430h6v1h-6zM1220,431h6v1h-6zM1220,432h6v1h-6zM1219,433h8v1h-8zM1219,434h8v1h-8z" fill="#000"/>
<path d="M1036,497h2v1h-2zM1033,498h5v1h-5zM1031,499h7v1h-7zM1029,500h9v1h-9zM1029,501h9v1h-9zM1031,502h7v1h-7zM1033,503h5v1h-5zM1036,504h2v1h-2z" fill="#000"/>
<path d="M1036,504h2v1h-2zM1033,505h5v1h-5zM1031,506h7v1h-7zM1029,507h9v1h-9zM1029,508h9v1h-9zM1031,509h7v1h-7zM1033,510h5v1h-5zM1036,511h2v1h-2z" fill="#000"/>
<path d="M1145,529h8v1h-8zM1145,530h8v1h-8zM1146,531h6v1h-6zM1146,532h6v1h-6zM1146,533h6v1h-6zM1147,534h4v1h-4zM1147,535h4v1h-4zM1148,536h2v1h-2zM1148,537h2v1h-2zM1149,538h1v1h-1z" fill="#000"/>
<path d="M85,280h2v1h-2zM82,281h5v1h-5zM80,282h7v1h-7zM78,283h9v1h-9zM78,284h9v1h-9zM80,285h7v1h-7zM82,286h5v1h-5zM85,287h2v1h-2z" fill="#000"/>
<path d="M152,280h2v1h-2zM152,281h5v1h-5zM152,282h7v1h-7zM152,283h9v1h-9zM152,284h10v1h-10zM152,285h7v1h-7zM152,286h5v1h-5zM152,287h2v1h-2z" fill="#000"/>
<path d="M180,280h2v1h-2zM177,281h5v1h-5zM175,282h7v1h-7zM173,283h9v1h-9zM173,284h9v1h-9zM175,285h7v1h-7zM177,286h5v1h-5zM180,287h2v1h-2z" fill="#000"/>
<path d="M250,280h2v1h-2zM250,281h5v1h-5zM250,282h7v1h-7zM250,283h9v1h-9zM250,284h10v1h-10zM250,285h7v1h-7zM250,286h5v1h-5zM250,287h2v1h-2z" fill="#000"/>
<path d="M166,290h2v1h-2zM166,291h2v1h-2zM165,292h4v1h-4zM165,293h4v1h-4zM164,294h6v1h-6zM164,295h6v1h-6zM164,296h6v1h-6zM163,297h8v1h-8zM163,298h8v1h-8z" fill="#000"/>
<path d="M163,504h8v1h-8zM163,505h8v1h-8zM164,506h6v1h-6zM164,507h6v1h-6zM164,508h6v1h-6zM165,509h4v1h-4zM165,510h4v1h-4zM166,511h2v1h-2zM166,512h2v1h-2zM167,513h1v1h-1z" fill="#000"/>
<path d="M230,642h2v1h-2zM230,643h5v1h-5zM230,644h7v1h-7zM230,645h9v1h-9zM230,646h10v1h-10zM230,647h7v1h-7zM230,648h5v1h-5zM230,649h2v1h-2z" fill="#000"/>
<path d="M79,290h2v1h-2zM79,291h2v1h-2zM78,292h4v1h-4zM78,293h4v1h-4zM77,294h6v1h-6zM77,295h6v1h-6zM77,296h6v1h-6zM76,297h8v1h-8zM76,298h8v1h-8z" fill="#000"/>
<path d="M152,515h2v1h-2zM152,516h5v1h-5zM152,517h7v1h-7zM152,518h9v1h-9zM152,519h10v1h-10zM152,520h7v1h-7zM152,521h5v1h-5zM152,522h2v1h-2z" fill="#000"/>
<path d="M230,515h2v1h-2zM230,516h5v1h-5zM230,517h7v1h-7zM230,518h9v1h-9zM230,519h10v1h-10zM230,520h7v1h-7zM230,521h5v1h-5zM230,522h2v1h-2z" fill="#000"/>
<path d="M258,515h2v1h-2zM255,516h5v1h-5zM253,517h7v1h-7zM251,518h9v1h-9zM251,519h9v1h-9zM253,520h7v1h-7zM255,521h5v1h-5zM258,522h2v1h-2z" fill="#000"/>
<path d="M244,440h2v1h-2zM244,441h2v1h-2zM243,442h4v1h-4zM243,443h4v1h-4zM243,444h4v1h-4zM242,445h6v1h-6z" fill="#fff"/>
<path d="M244,438h2v1h-2zM244,439h2v1h-2zM243,440h1v1h-1zM246,440h1v1h-1zM243,441h1v1h-1zM246,441h1v1h-1zM242,442h1v1h-1zM247,442h1v1h-1zM242,443h1v1h-1zM247,443h1v1h-1zM242,444h1v1h-1zM247,444h1v1h-1zM241,445h1v1h-1zM248,445h1v1h-1zM241,446h8v1h-8z" fill="#000"/>
<path d="M242,505h6v1h-6zM243,506h4v1h-4zM243,507h4v1h-4zM243,508h4v1h-4zM244,509h2v1h-2zM244,510h2v1h-2z" fill="#fff"/>
<path d="M241,504h8v1h-8zM241,505h1v1h-1zM248,505h1v1h-1zM242,506h1v1h-1zM247,506h1v1h-1zM242,507h1v1h-1zM247,507h1v1h-1zM242,508h1v1h-1zM247,508h1v1h-1zM243,509h1v1h-1zM246,509h1v1h-1zM243,510h1v1h-1zM246,510h1v1h-1zM244,511h2v1h-2zM244,512h2v1h-2zM245,513h1v1h-1z" fill="#000"/>
<path d="M244,526h2v1h-2zM244,527h2v1h-2zM243,528h4v1h-4zM243,529h4v1h-4zM242,530h6v1h-6zM242,531h6v1h-6zM242,532h6v1h-6zM241,533h8v1h-8zM241,534h8v1h-8z" fill="#000"/>
<path d="M241,632h8v1h-8zM241,633h8v1h-8zM242,634h6v1h-6zM242,635h6v1h-6zM242,636h6v1h-6zM243,637h4v1h-4zM243,638h4v1h-4zM244,639h2v1h-2zM244,640h2v1h-2zM245,641h1v1h-1z" fill="#000"/>
<path d="M249,526h2v1h-2zM249,527h2v1h-2zM248,528h4v1h-4zM248,529h4v1h-4zM247,530h6v1h-6zM247,531h6v1h-6zM247,532h6v1h-6zM246,533h8v1h-8zM246,534h8v1h-8z" fill="#000"/>
<path d="M424,632h8v1h-8zM424,633h8v1h-8zM425,634h6v1h-6zM425,635h6v1h-6zM425,636h6v1h-6zM426,637h4v1h-4zM426,638h4v1h-4zM427,639h2v1h-2zM427,640h2v1h-2zM428,641h1v1h-1z" fill="#000"/>
<path d="M258,643h2v1h-2zM255,644h5v1h-5zM253,645h7v1h-7zM251,646h9v1h-9zM251,647h9v1h-9zM253,648h7v1h-7zM255,649h5v1h-5zM258,650h2v1h-2z" fill="#000"/>
<path d="M143,724h8v1h-8zM143,725h8v1h-8zM144,726h6v1h-6zM144,727h6v1h-6zM144,728h6v1h-6zM145,729h4v1h-4zM145,730h4v1h-4zM146,731h2v1h-2zM146,732h2v1h-2zM147,733h1v1h-1z" fill="#000"/>
<path d="M241,724h8v1h-8zM241,725h8v1h-8zM242,726h6v1h-6zM242,727h6v1h-6zM242,728h6v1h-6zM243,729h4v1h-4zM243,730h4v1h-4zM244,731h2v1h-2zM244,732h2v1h-2zM245,733h1v1h-1z" fill="#000"/>
<path d="M144,826h6v1h-6zM145,827h4v1h-4zM145,828h4v1h-4zM145,829h4v1h-4zM146,830h2v1h-2zM146,831h2v1h-2z" fill="#fff"/>
<path d="M143,825h8v1h-8zM143,826h1v1h-1zM150,826h1v1h-1zM144,827h1v1h-1zM149,827h1v1h-1zM144,828h1v1h-1zM149,828h1v1h-1zM144,829h1v1h-1zM149,829h1v1h-1zM145,830h1v1h-1zM148,830h1v1h-1zM145,831h1v1h-1zM148,831h1v1h-1zM146,832h2v1h-2zM146,833h2v1h-2zM147,834h1v1h-1z" fill="#000"/>
<path d="M242,826h6v1h-6zM243,827h4v1h-4zM243,828h4v1h-4zM243,829h4v1h-4zM244,830h2v1h-2zM244,831h2v1h-2z" fill="#fff"/>
<path d="M241,825h8v1h-8zM241,826h1v1h-1zM248,826h1v1h-1zM242,827h1v1h-1zM247,827h1v1h-1zM242,828h1v1h-1zM247,828h1v1h-1zM242,829h1v1h-1zM247,829h1v1h-1zM243,830h1v1h-1zM246,830h1v1h-1zM243,831h1v1h-1zM246,831h1v1h-1zM244,832h2v1h-2zM244,833h2v1h-2zM245,834h1v1h-1z" fill="#000"/>
<path d="M194,764h6v1h-6zM195,765h4v1h-4zM195,766h4v1h-4zM195,767h4v1h-4zM196,768h2v1h-2zM196,769h2v1h-2z" fill="#fff"/>
<path d="M193,763h8v1h-8zM193,764h1v1h-1zM200,764h1v1h-1zM194,765h1v1h-1zM199,765h1v1h-1zM194,766h1v1h-1zM199,766h1v1h-1zM194,767h1v1h-1zM199,767h1v1h-1zM195,768h1v1h-1zM198,768h1v1h-1zM195,769h1v1h-1zM198,769h1v1h-1zM196,770h2v1h-2zM196,771h2v1h-2zM197,772h1v1h-1z" fill="#000"/>
<path d="M586,643h2v1h-2zM586,644h5v1h-5zM586,645h7v1h-7zM586,646h9v1h-9zM586,647h10v1h-10zM586,648h7v1h-7zM586,649h5v1h-5zM586,650h2v1h-2z" fill="#000"/>
<path d="M531,591h2v1h-2zM531,592h2v1h-2zM530,593h4v1h-4zM530,594h4v1h-4zM530,595h4v1h-4zM529,596h6v1h-6z" fill="#fff"/>
<path d="M531,589h2v1h-2zM531,590h2v1h-2zM530,591h1v1h-1zM533,591h1v1h-1zM530,592h1v1h-1zM533,592h1v1h-1zM529,593h1v1h-1zM534,593h1v1h-1zM529,594h1v1h-1zM534,594h1v1h-1zM529,595h1v1h-1zM534,595h1v1h-1zM528,596h1v1h-1zM535,596h1v1h-1zM528,597h8v1h-8z" fill="#000"/>
<path d="M598,631h8v1h-8zM598,632h8v1h-8zM599,633h6v1h-6zM599,634h6v1h-6zM599,635h6v1h-6zM600,636h4v1h-4zM600,637h4v1h-4zM601,638h2v1h-2zM601,639h2v1h-2zM602,640h1v1h-1z" fill="#000"/>
<path d="M653,559h2v1h-2zM653,560h5v1h-5zM653,561h7v1h-7zM653,562h9v1h-9zM653,563h10v1h-10zM653,564h7v1h-7zM653,565h5v1h-5zM653,566h2v1h-2z" fill="#000"/>
<path d="M601,653h2v1h-2zM601,654h2v1h-2zM600,655h4v1h-4zM600,656h4v1h-4zM599,657h6v1h-6zM599,658h6v1h-6zM599,659h6v1h-6zM598,660h8v1h-8zM598,661h8v1h-8z" fill="#000"/>
<path d="M598,705h8v1h-8zM598,706h8v1h-8zM599,707h6v1h-6zM599,708h6v1h-6zM599,709h6v1h-6zM600,710h4v1h-4zM600,711h4v1h-4zM601,712h2v1h-2zM601,713h2v1h-2zM602,714h1v1h-1z" fill="#000"/>
<path d="M665,569h2v1h-2zM665,570h2v1h-2zM664,571h4v1h-4zM664,572h4v1h-4zM663,573h6v1h-6zM663,574h6v1h-6zM663,575h6v1h-6zM662,576h8v1h-8zM662,577h8v1h-8z" fill="#000"/>
<path d="M673,569h2v1h-2zM673,570h2v1h-2zM672,571h4v1h-4zM672,572h4v1h-4zM671,573h6v1h-6zM671,574h6v1h-6zM671,575h6v1h-6zM670,576h8v1h-8zM670,577h8v1h-8z" fill="#000"/>
<path d="M1008,522h2v1h-2zM1008,523h2v1h-2zM1007,524h4v1h-4zM1007,525h4v1h-4zM1006,526h6v1h-6zM1006,527h6v1h-6zM1006,528h6v1h-6zM1005,529h8v1h-8zM1005,530h8v1h-8z" fill="#000"/>
<path d="M993,522h2v1h-2zM993,523h2v1h-2zM992,524h4v1h-4zM992,525h4v1h-4zM991,526h6v1h-6zM991,527h6v1h-6zM991,528h6v1h-6zM990,529h8v1h-8zM990,530h8v1h-8z" fill="#000"/>
<path d="M998,522h2v1h-2zM998,523h2v1h-2zM997,524h4v1h-4zM997,525h4v1h-4zM996,526h6v1h-6zM996,527h6v1h-6zM996,528h6v1h-6zM995,529h8v1h-8zM995,530h8v1h-8z" fill="#000"/>
<path d="M865,575h8v1h-8zM865,576h8v1h-8zM866,577h6v1h-6zM866,578h6v1h-6zM866,579h6v1h-6zM867,580h4v1h-4zM867,581h4v1h-4zM868,582h2v1h-2zM868,583h2v1h-2zM869,584h1v1h-1z" fill="#000"/>
<path d="M760,594h2v1h-2zM760,595h2v1h-2zM759,596h4v1h-4zM759,597h4v1h-4zM758,598h6v1h-6zM758,599h6v1h-6zM758,600h6v1h-6zM757,601h8v1h-8zM757,602h8v1h-8z" fill="#000"/>
<path d="M1003,524h2v1h-2zM1003,525h2v1h-2zM1002,526h4v1h-4zM1002,527h4v1h-4zM1002,528h4v1h-4zM1001,529h6v1h-6z" fill="#fff"/>
<path d="M1003,522h2v1h-2zM1003,523h2v1h-2zM1002,524h1v1h-1zM1005,524h1v1h-1zM1002,525h1v1h-1zM1005,525h1v1h-1zM1001,526h1v1h-1zM1006,526h1v1h-1zM1001,527h1v1h-1zM1006,527h1v1h-1zM1001,528h1v1h-1zM1006,528h1v1h-1zM1000,529h1v1h-1zM1007,529h1v1h-1zM1000,530h8v1h-8z" fill="#000"/>
<path d="M258,735h2v1h-2zM255,736h5v1h-5zM253,737h7v1h-7zM251,738h9v1h-9zM251,739h9v1h-9zM253,740h7v1h-7zM255,741h5v1h-5zM258,742h2v1h-2z" fill="#000"/>
<path d="M665,707h2v1h-2zM665,708h2v1h-2zM664,709h4v1h-4zM664,710h4v1h-4zM663,711h6v1h-6zM663,712h6v1h-6zM663,713h6v1h-6zM662,714h8v1h-8zM662,715h8v1h-8z" fill="#000"/>
<path d="M813,736h1v1h-1zM810,737h4v1h-4zM808,738h6v1h-6zM808,739h6v1h-6zM810,740h4v1h-4zM813,741h1v1h-1z" fill="#fff"/>
<path d="M813,735h2v1h-2zM810,736h3v1h-3zM814,736h1v1h-1zM808,737h2v1h-2zM814,737h1v1h-1zM806,738h2v1h-2zM814,738h1v1h-1zM806,739h2v1h-2zM814,739h1v1h-1zM808,740h2v1h-2zM814,740h1v1h-1zM810,741h3v1h-3zM814,741h1v1h-1zM813,742h2v1h-2z" fill="#000"/>
<path d="M805,747h2v1h-2zM805,748h2v1h-2zM804,749h4v1h-4zM804,750h4v1h-4zM804,751h4v1h-4zM803,752h6v1h-6z" fill="#fff"/>
<path d="M805,745h2v1h-2zM805,746h2v1h-2zM804,747h1v1h-1zM807,747h1v1h-1zM804,748h1v1h-1zM807,748h1v1h-1zM803,749h1v1h-1zM808,749h1v1h-1zM803,750h1v1h-1zM808,750h1v1h-1zM803,751h1v1h-1zM808,751h1v1h-1zM802,752h1v1h-1zM809,752h1v1h-1zM802,753h8v1h-8z" fill="#000"/>
<path d="M701,771h2v1h-2zM698,772h5v1h-5zM696,773h7v1h-7zM694,774h9v1h-9zM694,775h9v1h-9zM696,776h7v1h-7zM698,777h5v1h-5zM701,778h2v1h-2z" fill="#000"/>
<path d="M516,771h2v1h-2zM513,772h5v1h-5zM511,773h7v1h-7zM509,774h9v1h-9zM509,775h9v1h-9zM511,776h7v1h-7zM513,777h5v1h-5zM516,778h2v1h-2z" fill="#000"/>
<path d="M586,649h2v1h-2zM586,650h5v1h-5zM586,651h7v1h-7zM586,652h9v1h-9zM586,653h10v1h-10zM586,654h7v1h-7zM586,655h5v1h-5zM586,656h2v1h-2z" fill="#000"/>
<path d="M598,834h1v1h-1zM595,835h4v1h-4zM593,836h6v1h-6zM593,837h6v1h-6zM595,838h4v1h-4zM598,839h1v1h-1z" fill="#fff"/>
<path d="M598,833h2v1h-2zM595,834h3v1h-3zM599,834h1v1h-1zM593,835h2v1h-2zM599,835h1v1h-1zM591,836h2v1h-2zM599,836h1v1h-1zM591,837h2v1h-2zM599,837h1v1h-1zM593,838h2v1h-2zM599,838h1v1h-1zM595,839h3v1h-3zM599,839h1v1h-1zM598,840h2v1h-2z" fill="#000"/>
<path d="M779,834h1v1h-1zM779,835h4v1h-4zM779,836h6v1h-6zM779,837h6v1h-6zM779,838h4v1h-4zM779,839h1v1h-1z" fill="#fff"/>
<path d="M778,833h2v1h-2zM778,834h1v1h-1zM780,834h3v1h-3zM778,835h1v1h-1zM783,835h2v1h-2zM778,836h1v1h-1zM785,836h2v1h-2zM778,837h1v1h-1zM785,837h3v1h-3zM778,838h1v1h-1zM783,838h2v1h-2zM778,839h1v1h-1zM780,839h3v1h-3zM778,840h2v1h-2z" fill="#000"/>
<path d="M540,908h2v1h-2zM537,909h5v1h-5zM535,910h7v1h-7zM533,911h9v1h-9zM533,912h9v1h-9zM535,913h7v1h-7zM537,914h5v1h-5zM540,915h2v1h-2z" fill="#000"/>
<path d="M806,833h2v1h-2zM803,834h5v1h-5zM801,835h7v1h-7zM799,836h9v1h-9zM799,837h9v1h-9zM801,838h7v1h-7zM803,839h5v1h-5zM806,840h2v1h-2z" fill="#000"/>
<path d="M889,872h2v1h-2zM889,873h5v1h-5zM889,874h7v1h-7zM889,875h9v1h-9zM889,876h10v1h-10zM889,877h7v1h-7zM889,878h5v1h-5zM889,879h2v1h-2z" fill="#000"/>
<path d="M644,907h2v1h-2zM641,908h5v1h-5zM639,909h7v1h-7zM637,910h9v1h-9zM637,911h9v1h-9zM639,912h7v1h-7zM641,913h5v1h-5zM644,914h2v1h-2z" fill="#000"/>
<path d="M759,881h2v1h-2zM759,882h2v1h-2zM758,883h4v1h-4zM758,884h4v1h-4zM757,885h6v1h-6zM757,886h6v1h-6zM757,887h6v1h-6zM756,888h8v1h-8zM756,889h8v1h-8z" fill="#000"/>
<path d="M644,910h2v1h-2zM641,911h5v1h-5zM639,912h7v1h-7zM637,913h9v1h-9zM637,914h9v1h-9zM639,915h7v1h-7zM641,916h5v1h-5zM644,917h2v1h-2z" fill="#000"/>
<path d="M768,956h8v1h-8zM768,957h8v1h-8zM769,958h6v1h-6zM769,959h6v1h-6zM769,960h6v1h-6zM770,961h4v1h-4zM770,962h4v1h-4zM771,963h2v1h-2zM771,964h2v1h-2zM772,965h1v1h-1z" fill="#000"/>
<path d="M433,653h2v1h-2zM433,654h2v1h-2zM432,655h4v1h-4zM432,656h4v1h-4zM431,657h6v1h-6zM431,658h6v1h-6zM431,659h6v1h-6zM430,660h8v1h-8zM430,661h8v1h-8z" fill="#000"/>
<path d="M629,918h2v1h-2zM629,919h2v1h-2zM628,920h4v1h-4zM628,921h4v1h-4zM627,922h6v1h-6zM627,923h6v1h-6zM627,924h6v1h-6zM626,925h8v1h-8zM626,926h8v1h-8z" fill="#000"/>
<path d="M850,968h1v1h-1zM850,969h4v1h-4zM850,970h6v1h-6zM850,971h6v1h-6zM850,972h4v1h-4zM850,973h1v1h-1z" fill="#fff"/>
<path d="M849,967h2v1h-2zM849,968h1v1h-1zM851,968h3v1h-3zM849,969h1v1h-1zM854,969h2v1h-2zM849,970h1v1h-1zM856,970h2v1h-2zM849,971h1v1h-1zM856,971h3v1h-3zM849,972h1v1h-1zM854,972h2v1h-2zM849,973h1v1h-1zM851,973h3v1h-3zM849,974h2v1h-2z" fill="#000"/>
<path d="M428,655h2v1h-2zM428,656h2v1h-2zM427,657h4v1h-4zM427,658h4v1h-4zM427,659h4v1h-4zM426,660h6v1h-6z" fill="#fff"/>
<path d="M428,653h2v1h-2zM428,654h2v1h-2zM427,655h1v1h-1zM430,655h1v1h-1zM427,656h1v1h-1zM430,656h1v1h-1zM426,657h1v1h-1zM431,657h1v1h-1zM426,658h1v1h-1zM431,658h1v1h-1zM426,659h1v1h-1zM431,659h1v1h-1zM425,660h1v1h-1zM432,660h1v1h-1zM425,661h8v1h-8z" fill="#000"/>
<path d="M1021,524h2v1h-2zM1021,525h2v1h-2zM1020,526h4v1h-4zM1020,527h4v1h-4zM1020,528h4v1h-4zM1019,529h6v1h-6z" fill="#fff"/>
<path d="M1021,522h2v1h-2zM1021,523h2v1h-2zM1020,524h1v1h-1zM1023,524h1v1h-1zM1020,525h1v1h-1zM1023,525h1v1h-1zM1019,526h1v1h-1zM1024,526h1v1h-1zM1019,527h1v1h-1zM1024,527h1v1h-1zM1019,528h1v1h-1zM1024,528h1v1h-1zM1018,529h1v1h-1zM1025,529h1v1h-1zM1018,530h8v1h-8z" fill="#000"/>
<path d="M1031,522h2v1h-2zM1031,523h2v1h-2zM1030,524h4v1h-4zM1030,525h4v1h-4zM1029,526h6v1h-6zM1029,527h6v1h-6zM1029,528h6v1h-6zM1028,529h8v1h-8zM1028,530h8v1h-8z" fill="#000"/>
<path d="M1165,582h2v1h-2zM1165,583h5v1h-5zM1165,584h7v1h-7zM1165,585h9v1h-9zM1165,586h10v1h-10zM1165,587h7v1h-7zM1165,588h5v1h-5zM1165,589h2v1h-2z" fill="#000"/>
<path d="M1075,598h8v1h-8zM1075,599h8v1h-8zM1076,600h6v1h-6zM1076,601h6v1h-6zM1076,602h6v1h-6zM1077,603h4v1h-4zM1077,604h4v1h-4zM1078,605h2v1h-2zM1078,606h2v1h-2zM1079,607h1v1h-1z" fill="#000"/>
<path d="M1165,633h2v1h-2zM1165,634h5v1h-5zM1165,635h7v1h-7zM1165,636h9v1h-9zM1165,637h10v1h-10zM1165,638h7v1h-7zM1165,639h5v1h-5zM1165,640h2v1h-2z" fill="#000"/>
<path d="M1075,648h8v1h-8zM1075,649h8v1h-8zM1076,650h6v1h-6zM1076,651h6v1h-6zM1076,652h6v1h-6zM1077,653h4v1h-4zM1077,654h4v1h-4zM1078,655h2v1h-2zM1078,656h2v1h-2zM1079,657h1v1h-1z" fill="#000"/>
<path d="M1165,679h2v1h-2zM1165,680h5v1h-5zM1165,681h7v1h-7zM1165,682h9v1h-9zM1165,683h10v1h-10zM1165,684h7v1h-7zM1165,685h5v1h-5zM1165,686h2v1h-2z" fill="#000"/>
<path d="M1165,726h2v1h-2zM1165,727h5v1h-5zM1165,728h7v1h-7zM1165,729h9v1h-9zM1165,730h10v1h-10zM1165,731h7v1h-7zM1165,732h5v1h-5zM1165,733h2v1h-2z" fill="#000"/>
<path d="M1165,776h2v1h-2zM1165,777h5v1h-5zM1165,778h7v1h-7zM1165,779h9v1h-9zM1165,780h10v1h-10zM1165,781h7v1h-7zM1165,782h5v1h-5zM1165,783h2v1h-2z" fill="#000"/>
</g>
<g>
<use href="#cir" x="167" y="124"/>
<use href="#cir" x="550" y="124"/>
<use href="#cir" x="797" y="124"/>
<use href="#cir" x="304" y="176"/>
<use href="#cir" x="72" y="284"/>
<use href="#cir" x="167" y="284"/>
<use href="#cir" x="265" y="284"/>
<use href="#cir" x="379" y="276"/>
<use href="#cir" x="379" y="357"/>
<use href="#cir" x="379" y="436"/>
<use href="#cir" x="550" y="237"/>
<use href="#cir" x="513" y="332"/>
<use href="#cir" x="586" y="350"/>
<use href="#cir" x="587" y="418"/>
<use href="#cir" x="680" y="172"/>
<use href="#cir" x="767" y="172"/>
<use href="#cir" x="854" y="172"/>
<use href="#cir" x="854" y="237"/>
<use href="#cir" x="854" y="302"/>
<use href="#cir" x="854" y="366"/>
<use href="#cir" x="854" y="432"/>
<use href="#cir" x="762" y="432"/>
<use href="#cir" x="698" y="455"/>
<use href="#cir" x="698" y="385"/>
<use href="#cir" x="698" y="315"/>
<use href="#cir" x="698" y="245"/>
<use href="#cir" x="919" y="162"/>
<use href="#cir" x="1005" y="162"/>
<use href="#cir" x="919" y="251"/>
<use href="#cir" x="1015" y="216"/>
<use href="#cir" x="1015" y="303"/>
<use href="#cir" x="1223" y="171"/>
<use href="#cir" x="1148" y="233"/>
<use href="#cir" x="1293" y="277"/>
<use href="#cir" x="1223" y="316"/>
<use href="#cir" x="1015" y="416"/>
<use href="#cir" x="1223" y="419"/>
<use href="#cir" x="1015" y="504"/>
<use href="#cir" x="1293" y="508"/>
<use href="#cir" x="1150" y="544"/>
<use href="#cir" x="167" y="519"/>
<use href="#cir" x="245" y="519"/>
<use href="#cir" x="245" y="647"/>
<use href="#cir" x="431" y="647"/>
<use href="#cir" x="602" y="647"/>
<use href="#cir" x="669" y="563"/>
<use href="#cir" x="761" y="588"/>
<use href="#cir" x="869" y="590"/>
<use href="#cir" x="666" y="701"/>
<use href="#cir" x="602" y="720"/>
<use href="#cir" x="147" y="739"/>
<use href="#cir" x="245" y="739"/>
<use href="#cir" x="800" y="739"/>
<use href="#cir" x="503" y="775"/>
<use href="#cir" x="688" y="775"/>
<use href="#cir" x="793" y="837"/>
<use href="#cir" x="760" y="876"/>
<use href="#cir" x="904" y="876"/>
<use href="#cir" x="527" y="912"/>
<use href="#cir" x="630" y="912"/>
<use href="#cir" x="772" y="971"/>
<use href="#cir" x="1180" y="586"/>
<use href="#cir" x="1079" y="613"/>
<use href="#cir" x="1180" y="637"/>
<use href="#cir" x="1079" y="663"/>
<use href="#cir" x="1180" y="683"/>
<use href="#cir" x="1079" y="707"/>
<use href="#cir" x="1180" y="730"/>
<use href="#cir" x="1079" y="756"/>
<use href="#cir" x="1180" y="780"/>
<use href="#cir" x="1079" y="805"/>
</g>
<g>
<text transform="matrix(1,0,0,1.1,0,-6.400)" x="50.5" y="64" style="font-size:14px;white-space:pre" xml:space="preserve">GLYOXYLATE  AND  DICARBOXYLATE  METABOLISM</text>
<text transform="matrix(1,0,0,1.1,0,-107.900)" x="16" y="1079" text-anchor="start">00630 12/5/25</text>
<text transform="matrix(1,0,0,1.1,0,-109.000)" x="16" y="1090" text-anchor="start">(c) Kanehisa Laboratories</text>
<text transform="matrix(1,0,0,1.1,0,-13.000)" x="280.5" y="130" text-anchor="middle">4.2.1.32</text>
<text transform="matrix(1,0,0,1.1,0,-19.600)" x="72.5" y="196" text-anchor="middle">1.1.1.93</text>
<text transform="matrix(1,0,0,1.1,0,-19.600)" x="167.5" y="196" text-anchor="middle">5.1.2.5</text>
<text transform="matrix(1,0,0,1.1,0,-22.500)" x="379.5" y="225" text-anchor="middle">2.6.1.35</text>
<text transform="matrix(1,0,0,1.1,0,-48.400)" x="379.5" y="484" text-anchor="middle">4.1.3.41</text>
<text transform="matrix(1,0,0,1.1,0,-40.500)" x="379.5" y="405" text-anchor="middle" textLength="41.5" lengthAdjust="spacing">4.2.1.184</text>
<text transform="matrix(1,0,0,1.1,0,-32.400)" x="379.5" y="324" text-anchor="middle">1.4.1.29</text>
<text transform="matrix(1,0,0,1.1,0,-17.400)" x="550.5" y="174" text-anchor="middle">1.1.1.37</text>
<text transform="matrix(1,0,0,1.1,0,-7.000)" x="740.5" y="70" text-anchor="middle">Pyruvate metabolism</text>
<text transform="matrix(1,0,0,1.1,0,-10.200)" x="719.5" y="102" text-anchor="middle">Citrate cycle</text>
<text transform="matrix(1,0,0,1.1,0,-11.900)" x="643.5" y="119" text-anchor="middle">2.3.3.1</text>
<text transform="matrix(1,0,0,1.1,0,-14.000)" x="643.5" y="140" text-anchor="middle">2.3.3.5</text>
<text transform="matrix(1,0,0,1.1,0,-13.000)" x="1092.5" y="130" text-anchor="middle">4.2.1.3</text>
<text transform="matrix(1,0,0,1.1,0,-39.300)" x="1293.5" y="393" text-anchor="middle">4.2.1.3</text>
<text transform="matrix(1,0,0,1.1,0,-18.200)" x="431" y="182" text-anchor="start">Pyruvate</text>
<text transform="matrix(1,0,0,1.1,0,-19.300)" x="431" y="193" text-anchor="start">metabolism</text>
<text transform="matrix(1,0,0,1.1,0,-17.800)" x="633.5" y="178" text-anchor="middle">2.3.1.9</text>
<text transform="matrix(1,0,0,1.1,0,-17.800)" x="719.5" y="178" text-anchor="middle">1.1.1.36</text>
<text transform="matrix(1,0,0,1.1,0,-17.800)" x="805.5" y="178" text-anchor="middle">4.2.1.55</text>
<text transform="matrix(1,0,0,1.1,0,-20.500)" x="854.5" y="205" text-anchor="middle">1.3.1.85</text>
<text transform="matrix(1,0,0,1.1,0,-27.000)" x="855.5" y="270" text-anchor="middle">5.1.99.1</text>
<text transform="matrix(1,0,0,1.1,0,-33.700)" x="853.5" y="337" text-anchor="middle" textLength="39.5" lengthAdjust="spacing">5.4.99.63</text>
<text transform="matrix(1,0,0,1.1,0,-40.100)" x="855.5" y="401" text-anchor="middle">1.3.8.12</text>
<text transform="matrix(1,0,0,1.1,0,-43.700)" x="813.5" y="437" text-anchor="middle" textLength="39" lengthAdjust="spacing">4.2.1.148</text>
<text transform="matrix(1,0,0,1.1,0,-31.100)" x="919.5" y="311" text-anchor="middle">2.8.3.26</text>
<text transform="matrix(1,0,0,1.1,0,-21.200)" x="919.5" y="212" text-anchor="middle">4.3.1.2</text>
<text transform="matrix(1,0,0,1.1,0,-16.800)" x="967.5" y="168" text-anchor="middle">5.4.99.1</text>
<text transform="matrix(1,0,0,1.1,0,-16.000)" x="1061" y="160" text-anchor="start">Alanine, aspartate and</text>
<text transform="matrix(1,0,0,1.1,0,-17.100)" x="1061" y="171" text-anchor="start">glutamate metabolism</text>
<text transform="matrix(1,0,0,1.1,0,-46.900)" x="763.5" y="469" text-anchor="middle">4.1.3.24</text>
<text transform="matrix(1,0,0,1.1,0,-42.900)" x="697.5" y="429" text-anchor="middle">6.4.1.3</text>
<text transform="matrix(1,0,0,1.1,0,-36.700)" x="698.5" y="367" text-anchor="middle">5.1.99.1</text>
<text transform="matrix(1,0,0,1.1,0,-29.400)" x="698.5" y="294" text-anchor="middle">5.4.99.2</text>
<text transform="matrix(1,0,0,1.1,0,-20.800)" x="698" y="208" text-anchor="middle">Citrate cycle</text>
<text transform="matrix(1,0,0,1.1,0,-28.500)" x="460.5" y="285" text-anchor="middle">6.2.1.9</text>
<text transform="matrix(1,0,0,1.1,0,-28.500)" x="514.5" y="285" text-anchor="middle">3.1.2.30</text>
<text transform="matrix(1,0,0,1.1,0,-40.500)" x="512.5" y="405" text-anchor="middle">4.1.3.24</text>
<text transform="matrix(1,0,0,1.1,0,-30.800)" x="551.5" y="308" text-anchor="middle">2.3.3.9</text>
<text transform="matrix(1,0,0,1.1,0,-39.400)" x="586.5" y="394" text-anchor="middle">6.2.1.1</text>
<text transform="matrix(1,0,0,1.1,0,-25.300)" x="608" y="253" text-anchor="start">Fatty acid</text>
<text transform="matrix(1,0,0,1.1,0,-26.400)" x="608" y="264" text-anchor="start">degradation</text>
<text transform="matrix(1,0,0,1.1,0,-34.500)" x="963.5" y="345" text-anchor="middle">1.2.3.4</text>
<text transform="matrix(1,0,0,1.1,0,-27.300)" x="995.5" y="273" text-anchor="middle">1.2.2.1</text>
<text transform="matrix(1,0,0,1.1,0,-25.400)" x="1036.5" y="254" text-anchor="middle">1.17.1.9</text>
<text transform="matrix(1,0,0,1.1,0,-21.200)" x="1053" y="212" text-anchor="start">Pyruvate</text>
<text transform="matrix(1,0,0,1.1,0,-22.300)" x="1053" y="223" text-anchor="start">metabolism</text>
<text transform="matrix(1,0,0,1.1,0,-27.500)" x="1147.5" y="275" text-anchor="middle">2.7.2.6</text>
<text transform="matrix(1,0,0,1.1,0,-20.700)" x="1198.5" y="207" text-anchor="middle">3.5.1.8</text>
<text transform="matrix(1,0,0,1.1,0,-20.700)" x="1248.5" y="207" text-anchor="middle">3.5.1.31</text>
<text transform="matrix(1,0,0,1.1,0,-22.600)" x="1198.5" y="226" text-anchor="middle">3.5.1.9</text>
<text transform="matrix(1,0,0,1.1,0,-22.600)" x="1248.5" y="226" text-anchor="middle">3.5.1.49</text>
<text transform="matrix(1,0,0,1.1,0,-24.500)" x="1198.5" y="245" text-anchor="middle">3.5.1.10</text>
<text transform="matrix(1,0,0,1.1,0,-24.500)" x="1248.5" y="245" text-anchor="middle">3.5.1.56</text>
<text transform="matrix(1,0,0,1.1,0,-26.400)" x="1223.5" y="264" text-anchor="middle">3.5.1.68</text>
<text transform="matrix(1,0,0,1.1,0,-32.400)" x="1120.5" y="324" text-anchor="middle">3.1.2.10</text>
<text transform="matrix(1,0,0,1.1,0,-39.300)" x="1015.5" y="393" text-anchor="middle">4.1.1.2</text>
<text transform="matrix(1,0,0,1.1,0,-35.400)" x="1185.5" y="354" text-anchor="middle">2.8.3.16</text>
<text transform="matrix(1,0,0,1.1,0,-34.800)" x="1079" y="348" text-anchor="start">Nitrogen</text>
<text transform="matrix(1,0,0,1.1,0,-35.900)" x="1079" y="359" text-anchor="start">metabolism</text>
<text transform="matrix(1,0,0,1.1,0,-39.300)" x="1223.5" y="393" text-anchor="middle">4.1.1.8</text>
<text transform="matrix(1,0,0,1.1,0,-41.600)" x="1120.5" y="416" text-anchor="middle">2.8.3.2</text>
<text transform="matrix(1,0,0,1.1,0,-43.600)" x="1120.5" y="436" text-anchor="middle">6.2.1.8</text>
<text transform="matrix(1,0,0,1.1,0,-46.200)" x="1015.5" y="462" text-anchor="middle">1.2.3.5</text>
<text transform="matrix(1,0,0,1.1,0,-46.900)" x="1224.5" y="469" text-anchor="middle">1.2.1.17</text>
<text transform="matrix(1,0,0,1.1,0,-51.400)" x="1255.5" y="514" text-anchor="middle">4.1.3.1</text>
<text transform="matrix(1,0,0,1.1,0,-29.000)" x="119.5" y="290" text-anchor="middle">1.1.1.93</text>
<text transform="matrix(1,0,0,1.1,0,-29.000)" x="218.5" y="290" text-anchor="middle">3.3.2.4</text>
<text transform="matrix(1,0,0,1.1,0,-37.000)" x="168.5" y="370" text-anchor="middle">1.3.1.7</text>
<text transform="matrix(1,0,0,1.1,0,-58.400)" x="72.5" y="584" text-anchor="middle">1.1.1.92</text>
<text transform="matrix(1,0,0,1.1,0,-52.500)" x="201.5" y="525" text-anchor="middle">4.1.1.54</text>
<text transform="matrix(1,0,0,1.1,0,-52.500)" x="304.5" y="525" text-anchor="middle">4.1.1.47</text>
<text transform="matrix(1,0,0,1.1,0,-40.600)" x="211" y="406" text-anchor="start">Ascorbate and</text>
<text transform="matrix(1,0,0,1.1,0,-41.700)" x="211" y="417" text-anchor="start">aldarate</text>
<text transform="matrix(1,0,0,1.1,0,-42.800)" x="211" y="428" text-anchor="start">metabolism</text>
<text transform="matrix(1,0,0,1.1,0,-58.400)" x="246.5" y="584" text-anchor="middle">1.1.1.60</text>
<text transform="matrix(1,0,0,1.1,0,-59.400)" x="432.5" y="594" text-anchor="middle">5.3.1.22</text>
<text transform="matrix(1,0,0,1.1,0,-64.200)" x="314.5" y="642" text-anchor="middle">1.1.1.26</text>
<text transform="matrix(1,0,0,1.1,0,-64.200)" x="362.5" y="642" text-anchor="middle">1.1.1.79</text>
<text transform="matrix(1,0,0,1.1,0,-66.300)" x="314.5" y="663" text-anchor="middle">1.1.1.29</text>
<text transform="matrix(1,0,0,1.1,0,-66.300)" x="362.5" y="663" text-anchor="middle">1.1.1.81</text>
<text transform="matrix(1,0,0,1.1,0,-70.100)" x="148.5" y="701" text-anchor="middle" textLength="40.5" lengthAdjust="spacing">2.7.1.165</text>
<text transform="matrix(1,0,0,1.1,0,-70.100)" x="246.5" y="701" text-anchor="middle">2.7.1.31</text>
<text transform="matrix(1,0,0,1.1,0,-79.200)" x="181" y="792" text-anchor="start">Carbon</text>
<text transform="matrix(1,0,0,1.1,0,-80.300)" x="181" y="803" text-anchor="start">fixation</text>
<text transform="matrix(1,0,0,1.1,0,-85.400)" x="196.5" y="854" text-anchor="middle">Glycolysis / Gluconeogenesis</text>
<text transform="matrix(1,0,0,1.1,0,-65.400)" x="490.5" y="654" text-anchor="middle">4.1.1.40</text>
<text transform="matrix(1,0,0,1.1,0,-56.900)" x="505" y="569" text-anchor="start">Vitamin B6</text>
<text transform="matrix(1,0,0,1.1,0,-58.000)" x="505" y="580" text-anchor="start">metabolism</text>
<text transform="matrix(1,0,0,1.1,0,-60.600)" x="602.5" y="606" text-anchor="middle">1.2.1.21</text>
<text transform="matrix(1,0,0,1.1,0,-69.200)" x="577.5" y="692" text-anchor="middle">1.1.1.77</text>
<text transform="matrix(1,0,0,1.1,0,-69.200)" x="627.5" y="692" text-anchor="middle">1.1.1.-</text>
<text transform="matrix(1,0,0,1.1,0,-66.700)" x="666.5" y="667" text-anchor="middle">3.1.3.18</text>
<text transform="matrix(1,0,0,1.1,0,-64.100)" x="819.5" y="641" text-anchor="middle">1.1.1.26</text>
<text transform="matrix(1,0,0,1.1,0,-66.200)" x="796.5" y="662" text-anchor="middle">1.1.1.79</text>
<text transform="matrix(1,0,0,1.1,0,-66.200)" x="844.5" y="662" text-anchor="middle">1.1.1.29</text>
<text transform="matrix(1,0,0,1.1,0,-54.700)" x="817.5" y="547" text-anchor="middle" textLength="38.5" lengthAdjust="spacing">1.1.99.14</text>
<text transform="matrix(1,0,0,1.1,0,-56.900)" x="817.5" y="569" text-anchor="middle">1.1.3.15</text>
<text transform="matrix(1,0,0,1.1,0,-62.000)" x="819.5" y="620" text-anchor="middle">1.11.1.6</text>
<text transform="matrix(1,0,0,1.1,0,-61.500)" x="909" y="615" text-anchor="start">Purine</text>
<text transform="matrix(1,0,0,1.1,0,-62.600)" x="909" y="626" text-anchor="start">metabolism</text>
<text transform="matrix(1,0,0,1.1,0,-74.600)" x="750.5" y="746" text-anchor="middle">4.1.1.39</text>
<text transform="matrix(1,0,0,1.1,0,-74.500)" x="894" y="745" text-anchor="middle">Carbon fixation</text>
<text transform="matrix(1,0,0,1.1,0,-77.700)" x="857" y="777" text-anchor="start">Pentose phosphate</text>
<text transform="matrix(1,0,0,1.1,0,-78.800)" x="857" y="788" text-anchor="start">pathway</text>
<text transform="matrix(1,0,0,1.1,0,-78.100)" x="750.5" y="781" text-anchor="middle" textLength="41" lengthAdjust="spacing">3.1.3.109</text>
<text transform="matrix(1,0,0,1.1,0,-78.100)" x="629.5" y="781" text-anchor="middle">4.1.2.-</text>
<text transform="matrix(1,0,0,1.1,0,-83.600)" x="475" y="836" text-anchor="start">Alanine, aspartate and</text>
<text transform="matrix(1,0,0,1.1,0,-84.700)" x="475" y="847" text-anchor="start">glutamate metabolism</text>
<text transform="matrix(1,0,0,1.1,0,-91.700)" x="580.5" y="917" text-anchor="middle">1.4.1.27</text>
<text transform="matrix(1,0,0,1.1,0,-84.200)" x="853.5" y="842" text-anchor="middle">6.3.1.2</text>
<text transform="matrix(1,0,0,1.1,0,-88.200)" x="853.5" y="882" text-anchor="middle">1.4.7.1</text>
<text transform="matrix(1,0,0,1.1,0,-91.700)" x="853.5" y="917" text-anchor="middle">2.6.1.4</text>
<text transform="matrix(1,0,0,1.1,0,-94.100)" x="853.5" y="941" text-anchor="middle">2.6.1.44</text>
<text transform="matrix(1,0,0,1.1,0,-94.600)" x="772.5" y="946" text-anchor="middle">2.1.2.1</text>
<text transform="matrix(1,0,0,1.1,0,-97.800)" x="698.5" y="978" text-anchor="middle">2.6.1.45</text>
<text transform="matrix(1,0,0,1.1,0,-97.000)" x="876" y="970" text-anchor="start">Cysteine and</text>
<text transform="matrix(1,0,0,1.1,0,-98.100)" x="876" y="981" text-anchor="start">methionine metabolism</text>
<text transform="matrix(1,0,0,1.1,0,-104.000)" x="653" y="1040" text-anchor="start">Glycine, serine and</text>
<text transform="matrix(1,0,0,1.1,0,-105.100)" x="653" y="1051" text-anchor="start">threonine metabolism</text>
<text transform="matrix(1,0,0,1.1,0,-58.100)" x="1125.5" y="581" text-anchor="middle">4.1.3.16</text>
<text transform="matrix(1,0,0,1.1,0,-60.200)" x="1125.5" y="602" text-anchor="middle">4.1.3.42</text>
<text transform="matrix(1,0,0,1.1,0,-64.300)" x="1125.5" y="643" text-anchor="middle">4.1.3.13</text>
<text transform="matrix(1,0,0,1.1,0,-68.900)" x="1125.5" y="689" text-anchor="middle">2.3.3.7</text>
<text transform="matrix(1,0,0,1.1,0,-73.600)" x="1125.5" y="736" text-anchor="middle">2.3.3.12</text>
<text transform="matrix(1,0,0,1.1,0,-78.500)" x="1125.5" y="785" text-anchor="middle">2.2.1.5</text>
<text transform="matrix(1,0,0,1.1,0,-11.500)" x="168" y="115" text-anchor="middle">L-Tartrate</text>
<text transform="matrix(1,0,0,1.1,0,-11.700)" x="541" y="117" text-anchor="end">Oxaloacetate</text>
<text transform="matrix(1,0,0,1.1,0,-11.400)" x="797" y="114" text-anchor="middle">Citrate</text>
<text transform="matrix(1,0,0,1.1,0,-18.100)" x="296" y="181" text-anchor="end">Glycine</text>
<text transform="matrix(1,0,0,1.1,0,-28.600)" x="19" y="286" text-anchor="start">Oxalo-</text>
<text transform="matrix(1,0,0,1.1,0,-29.700)" x="19" y="297" text-anchor="start">glycolate</text>
<text transform="matrix(1,0,0,1.1,0,-25.900)" x="173" y="259" text-anchor="start">meso-</text>
<text transform="matrix(1,0,0,1.1,0,-27.000)" x="173" y="270" text-anchor="start">Tartrate</text>
<text transform="matrix(1,0,0,1.1,0,-30.600)" x="219" y="306" text-anchor="start">trans-2,3-Epoxy-</text>
<text transform="matrix(1,0,0,1.1,0,-31.700)" x="219" y="317" text-anchor="start">succinate</text>
<text transform="matrix(1,0,0,1.1,0,-28.100)" x="371" y="281" text-anchor="end">L-Aspartate</text>
<text transform="matrix(1,0,0,1.1,0,-35.600)" x="331" y="356" text-anchor="start">Imino-</text>
<text transform="matrix(1,0,0,1.1,0,-36.700)" x="331" y="367" text-anchor="start">aspartate</text>
<text transform="matrix(1,0,0,1.1,0,-42.900)" x="315" y="429" text-anchor="start">(2R,3S)-</text>
<text transform="matrix(1,0,0,1.1,0,-44.000)" x="315" y="440" text-anchor="start">β-Hydroxy-</text>
<text transform="matrix(1,0,0,1.1,0,-45.100)" x="315" y="451" text-anchor="start">aspartate</text>
<text transform="matrix(1,0,0,1.1,0,-23.200)" x="538" y="232" text-anchor="end">(S)-Malate</text>
<text transform="matrix(1,0,0,1.1,0,-34.900)" x="506.5" y="349" text-anchor="end">(S)-Malyl-CoA</text>
<text transform="matrix(1,0,0,1.1,0,-36.700)" x="595" y="367" text-anchor="start">Acetyl-CoA</text>
<text transform="matrix(1,0,0,1.1,0,-43.500)" x="589" y="435" text-anchor="middle">Acetate</text>
<text transform="matrix(1,0,0,1.1,0,-15.900)" x="639" y="159" text-anchor="start">Acetoacetyl-CoA</text>
<text transform="matrix(1,0,0,1.1,0,-14.900)" x="739" y="149" text-anchor="start">(R)-3-Hydroxy-</text>
<text transform="matrix(1,0,0,1.1,0,-16.000)" x="739" y="160" text-anchor="start">butanoyl-CoA</text>
<text transform="matrix(1,0,0,1.1,0,-15.200)" x="837" y="152" text-anchor="start">Crotonoyl-</text>
<text transform="matrix(1,0,0,1.1,0,-16.300)" x="837" y="163" text-anchor="start">CoA</text>
<text transform="matrix(1,0,0,1.1,0,-23.500)" x="781.015625" y="235" text-anchor="start">(2S)-Ethyl-</text>
<text transform="matrix(1,0,0,1.1,0,-24.600)" x="781.015625" y="246" text-anchor="start">malonyl-CoA</text>
<text transform="matrix(1,0,0,1.1,0,-29.900)" x="782.015625" y="299" text-anchor="start">(2R)-Ethyl-</text>
<text transform="matrix(1,0,0,1.1,0,-31.000)" x="782.015625" y="310" text-anchor="start">malonyl-CoA</text>
<text transform="matrix(1,0,0,1.1,0,-36.700)" x="781.34375" y="367" text-anchor="start">(2S)-Methyl-</text>
<text transform="matrix(1,0,0,1.1,0,-37.800)" x="781.34375" y="378" text-anchor="start">succinyl-CoA</text>
<text transform="matrix(1,0,0,1.1,0,-45.000)" x="843" y="450" text-anchor="start">Mesaconyl-CoA</text>
<text transform="matrix(1,0,0,1.1,0,-40.700)" x="729" y="407" text-anchor="start">L-erythro-</text>
<text transform="matrix(1,0,0,1.1,0,-41.800)" x="729" y="418" text-anchor="start">3-Methylmalyl-CoA</text>
<text transform="matrix(1,0,0,1.1,0,-45.800)" x="639" y="458" text-anchor="start">Propionyl-</text>
<text transform="matrix(1,0,0,1.1,0,-46.900)" x="639" y="469" text-anchor="start">CoA</text>
<text transform="matrix(1,0,0,1.1,0,-38.600)" x="626.015625" y="386" text-anchor="start">(S)-Methyl-</text>
<text transform="matrix(1,0,0,1.1,0,-39.700)" x="626.015625" y="397" text-anchor="start">malonyl-CoA</text>
<text transform="matrix(1,0,0,1.1,0,-32.100)" x="707" y="321" text-anchor="start">(R)-Methyl-</text>
<text transform="matrix(1,0,0,1.1,0,-33.200)" x="707" y="332" text-anchor="start">malonyl-CoA</text>
<text transform="matrix(1,0,0,1.1,0,-24.900)" x="707" y="249" text-anchor="start">Succinyl-</text>
<text transform="matrix(1,0,0,1.1,0,-26.000)" x="707" y="260" text-anchor="start">CoA</text>
<text transform="matrix(1,0,0,1.1,0,-14.300)" x="901" y="143" text-anchor="start">L-threo-3-Methyl-</text>
<text transform="matrix(1,0,0,1.1,0,-15.400)" x="901" y="154" text-anchor="start">aspartate</text>
<text transform="matrix(1,0,0,1.1,0,-18.700)" x="1009" y="187" text-anchor="middle">L-Glutamate</text>
<text transform="matrix(1,0,0,1.1,0,-27.200)" x="921" y="272" text-anchor="middle">Mesaconate</text>
<text transform="matrix(1,0,0,1.1,0,-20.800)" x="1003" y="208">CO<tspan style="font-size:8px">2</tspan></text>
<text transform="matrix(1,0,0,1.1,0,-30.900)" x="1006" y="309" text-anchor="end">Formate</text>
<text transform="matrix(1,0,0,1.1,0,-15.400)" x="1201.6796875" y="154" text-anchor="start">N-Formyl-</text>
<text transform="matrix(1,0,0,1.1,0,-16.500)" x="1201.6796875" y="165" text-anchor="start">derivatives</text>
<text transform="matrix(1,0,0,1.1,0,-21.200)" x="1123" y="212" text-anchor="start">Formyl-</text>
<text transform="matrix(1,0,0,1.1,0,-22.300)" x="1123" y="223" text-anchor="start">phosphate</text>
<text transform="matrix(1,0,0,1.1,0,-28.200)" x="1303" y="282" text-anchor="start">cis-Aconitate</text>
<text transform="matrix(1,0,0,1.1,0,-32.100)" x="1233" y="321" text-anchor="start">Formyl-</text>
<text transform="matrix(1,0,0,1.1,0,-33.200)" x="1233" y="332" text-anchor="start">CoA</text>
<text transform="matrix(1,0,0,1.1,0,-43.100)" x="1007" y="431" text-anchor="end">Oxalate</text>
<text transform="matrix(1,0,0,1.1,0,-42.400)" x="1233" y="424" text-anchor="start">Oxalyl-</text>
<text transform="matrix(1,0,0,1.1,0,-43.500)" x="1233" y="435" text-anchor="start">CoA</text>
<text transform="matrix(1,0,0,1.1,0,-49.300)" x="1021" y="493" text-anchor="start">Glyoxylate</text>
<text transform="matrix(1,0,0,1.1,0,-53.100)" x="1293" y="531" text-anchor="start">Isocitrate</text>
<text transform="matrix(1,0,0,1.1,0,-54.900)" x="1159" y="549" text-anchor="start">Succinate</text>
<text transform="matrix(1,0,0,1.1,0,-53.500)" x="105" y="535" text-anchor="start">Dihydroxy-</text>
<text transform="matrix(1,0,0,1.1,0,-54.600)" x="105" y="546" text-anchor="start">fumarate</text>
<text transform="matrix(1,0,0,1.1,0,-54.200)" x="257" y="542" text-anchor="start">Tartronate</text>
<text transform="matrix(1,0,0,1.1,0,-55.300)" x="257" y="553" text-anchor="start">semialdehyde</text>
<text transform="matrix(1,0,0,1.1,0,-63.800)" x="239" y="638" text-anchor="end">D-Glycerate</text>
<text transform="matrix(1,0,0,1.1,0,-62.600)" x="439" y="626" text-anchor="start">Hydroxy-</text>
<text transform="matrix(1,0,0,1.1,0,-63.700)" x="439" y="637" text-anchor="start">pyruvate</text>
<text transform="matrix(1,0,0,1.1,0,-63.600)" x="611" y="636" text-anchor="start">Glycol-</text>
<text transform="matrix(1,0,0,1.1,0,-64.700)" x="611" y="647" text-anchor="start">aldehyde</text>
<text transform="matrix(1,0,0,1.1,0,-55.600)" x="665" y="556" text-anchor="end">Glycolate</text>
<text transform="matrix(1,0,0,1.1,0,-59.400)" x="753" y="594" text-anchor="end">O<tspan style="font-size:8px">2</tspan></text>
<text transform="matrix(1,0,0,1.1,0,-59.500)" x="876" y="595">H<tspan style="font-size:8px">2</tspan>O<tspan style="font-size:8px">2</tspan></text>
<text transform="matrix(1,0,0,1.1,0,-71.000)" x="677" y="710" text-anchor="start">Phosphoglycolate</text>
<text transform="matrix(1,0,0,1.1,0,-73.700)" x="604" y="737" text-anchor="middle">Ethane-1,2-diol</text>
<text transform="matrix(1,0,0,1.1,0,-74.000)" x="84.859375" y="740" text-anchor="start">2-Phospho-</text>
<text transform="matrix(1,0,0,1.1,0,-75.100)" x="84.859375" y="751" text-anchor="start">D-glycerate</text>
<text transform="matrix(1,0,0,1.1,0,-72.100)" x="252" y="721" text-anchor="start">3-Phospho-</text>
<text transform="matrix(1,0,0,1.1,0,-73.200)" x="252" y="732" text-anchor="start">D-glycerate</text>
<text transform="matrix(1,0,0,1.1,0,-72.600)" x="775" y="726">D-Ribulose 1,5-P<tspan style="font-size:8px">2</tspan></text>
<text transform="matrix(1,0,0,1.1,0,-79.400)" x="479" y="794" text-anchor="start">Dihydroxy-</text>
<text transform="matrix(1,0,0,1.1,0,-80.500)" x="479" y="805" text-anchor="start">acetone-P</text>
<text transform="matrix(1,0,0,1.1,0,-79.500)" x="690" y="795" text-anchor="middle">Ribulose-1P</text>
<text transform="matrix(1,0,0,1.1,0,-82.600)" x="791" y="826" text-anchor="middle">L-Glutamine</text>
<text transform="matrix(1,0,0,1.1,0,-86.700)" x="745" y="867" text-anchor="middle">2-Oxoglutarate</text>
<text transform="matrix(1,0,0,1.1,0,-88.200)" x="915" y="882" text-anchor="start">L-Glutamate</text>
<text transform="matrix(1,0,0,1.1,0,-91.600)" x="519" y="916" text-anchor="end">NH<tspan style="font-size:8px">3</tspan></text>
<text transform="matrix(1,0,0,1.1,0,-90.100)" x="629" y="901" text-anchor="middle">Glycine</text>
<text transform="matrix(1,0,0,1.1,0,-98.800)" x="776" y="988" text-anchor="middle">L-Serine</text>
<text transform="matrix(1,0,0,1.1,0,-58.700)" x="1193" y="587" text-anchor="start">4-Hydroxy-</text>
<text transform="matrix(1,0,0,1.1,0,-59.800)" x="1193" y="598" text-anchor="start">2-oxoglutarate</text>
<text transform="matrix(1,0,0,1.1,0,-61.900)" x="1089" y="619" text-anchor="start">Pyruvate</text>
<text transform="matrix(1,0,0,1.1,0,-64.300)" x="1193" y="643" text-anchor="start">3-Oxalomalate</text>
<text transform="matrix(1,0,0,1.1,0,-66.900)" x="1089" y="669" text-anchor="start">Oxaloacetate</text>
<text transform="matrix(1,0,0,1.1,0,-68.900)" x="1193" y="689" text-anchor="start">3-Ethylmalate</text>
<text transform="matrix(1,0,0,1.1,0,-71.300)" x="1089" y="713" text-anchor="start">Butanoyl-CoA</text>
<text transform="matrix(1,0,0,1.1,0,-73.500)" x="1193" y="735" text-anchor="start">3-Propylmalate</text>
<text transform="matrix(1,0,0,1.1,0,-76.100)" x="1089" y="761" text-anchor="start">Pentanoyl-CoA</text>
<text transform="matrix(1,0,0,1.1,0,-77.800)" x="1193" y="778" text-anchor="start">2-Hydroxy-</text>
<text transform="matrix(1,0,0,1.1,0,-78.900)" x="1193" y="789" text-anchor="start">3-oxoadipate</text>
<text transform="matrix(1,0,0,1.1,0,-81.100)" x="1089" y="811" text-anchor="start">2-Oxoglutarate</text>
</g>
</svg></body></html>
